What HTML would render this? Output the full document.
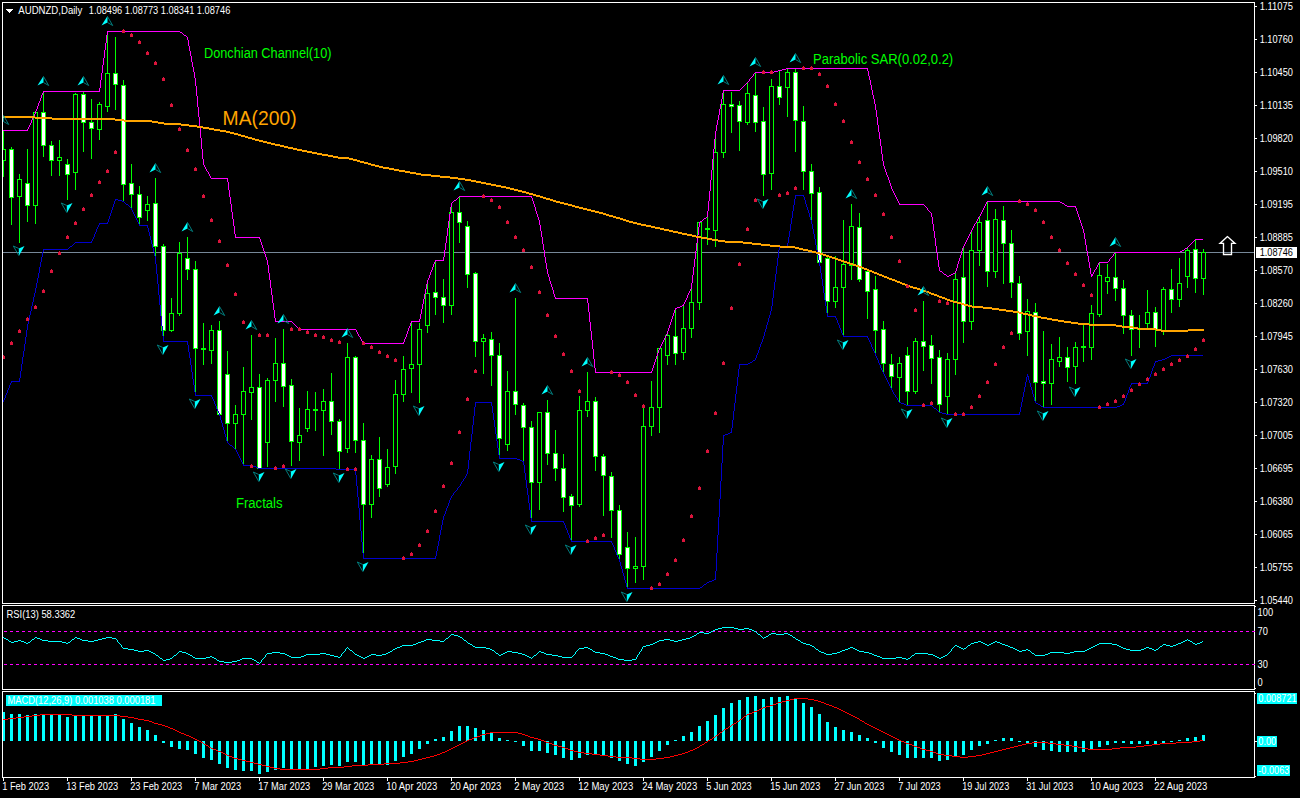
<!DOCTYPE html><html><head><meta charset="utf-8"><title>AUDNZD Daily</title><style>
html,body{margin:0;padding:0;background:#000;}body{width:1300px;height:798px;overflow:hidden;position:relative;font-family:"Liberation Sans",sans-serif;}
svg{position:absolute;left:0;top:0;display:block}
text{font-family:"Liberation Sans",sans-serif;}
.t{font-size:10px;fill:#fff}
</style></head><body>
<svg width="1300" height="798" viewBox="0 0 1300 798">
<rect x="0" y="0" width="1300" height="798" fill="#000"/>
<defs><clipPath id="cm"><rect x="3" y="3" width="1251" height="600"/></clipPath><clipPath id="cr"><rect x="3" y="606" width="1251" height="83"/></clipPath><clipPath id="cd"><rect x="3" y="692" width="1251" height="85"/></clipPath></defs>
<g shape-rendering="crispEdges" clip-path="url(#cm)">
<rect x="3" y="252" width="1251" height="1" fill="#778899"/>
<rect x="3" y="130" width="1" height="47" fill="#00ff00"/>
<rect x="1" y="149" width="5" height="12" fill="#00ff00"/>
<rect x="2" y="150" width="3" height="10" fill="#000"/>
<rect x="11" y="147" width="1" height="78" fill="#00ff00"/>
<rect x="9" y="149" width="5" height="49" fill="#00ff00"/>
<rect x="10" y="150" width="3" height="47" fill="#fff"/>
<rect x="19" y="174" width="1" height="69" fill="#00ff00"/>
<rect x="17" y="179" width="5" height="18" fill="#00ff00"/>
<rect x="18" y="180" width="3" height="16" fill="#000"/>
<rect x="27" y="149" width="1" height="73" fill="#00ff00"/>
<rect x="25" y="183" width="5" height="23" fill="#00ff00"/>
<rect x="26" y="184" width="3" height="21" fill="#fff"/>
<rect x="35" y="112" width="1" height="112" fill="#00ff00"/>
<rect x="33" y="112" width="5" height="94" fill="#00ff00"/>
<rect x="34" y="113" width="3" height="92" fill="#000"/>
<rect x="43" y="91" width="1" height="66" fill="#00ff00"/>
<rect x="41" y="112" width="5" height="34" fill="#00ff00"/>
<rect x="42" y="113" width="3" height="32" fill="#fff"/>
<rect x="51" y="141" width="1" height="35" fill="#00ff00"/>
<rect x="49" y="145" width="5" height="16" fill="#00ff00"/>
<rect x="50" y="146" width="3" height="14" fill="#fff"/>
<rect x="59" y="140" width="1" height="36" fill="#00ff00"/>
<rect x="57" y="157" width="5" height="4" fill="#00ff00"/>
<rect x="58" y="158" width="3" height="2" fill="#000"/>
<rect x="67" y="159" width="1" height="41" fill="#00ff00"/>
<rect x="65" y="164" width="5" height="11" fill="#00ff00"/>
<rect x="66" y="165" width="3" height="9" fill="#fff"/>
<rect x="75" y="93" width="1" height="97" fill="#00ff00"/>
<rect x="73" y="94" width="5" height="79" fill="#00ff00"/>
<rect x="74" y="95" width="3" height="77" fill="#000"/>
<rect x="83" y="91" width="1" height="61" fill="#00ff00"/>
<rect x="81" y="94" width="5" height="29" fill="#00ff00"/>
<rect x="82" y="95" width="3" height="27" fill="#fff"/>
<rect x="91" y="99" width="1" height="60" fill="#00ff00"/>
<rect x="89" y="122" width="5" height="7" fill="#00ff00"/>
<rect x="90" y="123" width="3" height="5" fill="#fff"/>
<rect x="99" y="102" width="1" height="38" fill="#00ff00"/>
<rect x="97" y="104" width="5" height="26" fill="#00ff00"/>
<rect x="98" y="105" width="3" height="24" fill="#000"/>
<rect x="107" y="31" width="1" height="81" fill="#00ff00"/>
<rect x="105" y="73" width="5" height="34" fill="#00ff00"/>
<rect x="106" y="74" width="3" height="32" fill="#000"/>
<rect x="115" y="37" width="1" height="73" fill="#00ff00"/>
<rect x="113" y="73" width="5" height="12" fill="#00ff00"/>
<rect x="114" y="74" width="3" height="10" fill="#fff"/>
<rect x="123" y="80" width="1" height="122" fill="#00ff00"/>
<rect x="121" y="85" width="5" height="100" fill="#00ff00"/>
<rect x="122" y="86" width="3" height="98" fill="#fff"/>
<rect x="131" y="164" width="1" height="45" fill="#00ff00"/>
<rect x="129" y="183" width="5" height="12" fill="#00ff00"/>
<rect x="130" y="184" width="3" height="10" fill="#fff"/>
<rect x="139" y="186" width="1" height="40" fill="#00ff00"/>
<rect x="137" y="194" width="5" height="24" fill="#00ff00"/>
<rect x="138" y="195" width="3" height="22" fill="#fff"/>
<rect x="147" y="196" width="1" height="25" fill="#00ff00"/>
<rect x="145" y="204" width="5" height="7" fill="#00ff00"/>
<rect x="146" y="205" width="3" height="5" fill="#000"/>
<rect x="155" y="178" width="1" height="81" fill="#00ff00"/>
<rect x="153" y="203" width="5" height="44" fill="#00ff00"/>
<rect x="154" y="204" width="3" height="42" fill="#fff"/>
<rect x="163" y="244" width="1" height="98" fill="#00ff00"/>
<rect x="161" y="246" width="5" height="85" fill="#00ff00"/>
<rect x="162" y="247" width="3" height="83" fill="#fff"/>
<rect x="171" y="298" width="1" height="34" fill="#00ff00"/>
<rect x="169" y="313" width="5" height="18" fill="#00ff00"/>
<rect x="170" y="314" width="3" height="16" fill="#000"/>
<rect x="179" y="242" width="1" height="74" fill="#00ff00"/>
<rect x="177" y="253" width="5" height="61" fill="#00ff00"/>
<rect x="178" y="254" width="3" height="59" fill="#000"/>
<rect x="187" y="237" width="1" height="43" fill="#00ff00"/>
<rect x="185" y="258" width="5" height="12" fill="#00ff00"/>
<rect x="186" y="259" width="3" height="10" fill="#fff"/>
<rect x="195" y="261" width="1" height="135" fill="#00ff00"/>
<rect x="193" y="269" width="5" height="80" fill="#00ff00"/>
<rect x="194" y="270" width="3" height="78" fill="#fff"/>
<rect x="203" y="323" width="1" height="42" fill="#00ff00"/>
<rect x="201" y="348" width="5" height="2" fill="#00ff00"/>
<rect x="211" y="325" width="1" height="39" fill="#00ff00"/>
<rect x="209" y="330" width="5" height="21" fill="#00ff00"/>
<rect x="210" y="331" width="3" height="19" fill="#000"/>
<rect x="219" y="321" width="1" height="94" fill="#00ff00"/>
<rect x="217" y="330" width="5" height="85" fill="#00ff00"/>
<rect x="218" y="331" width="3" height="83" fill="#fff"/>
<rect x="227" y="351" width="1" height="92" fill="#00ff00"/>
<rect x="225" y="374" width="5" height="50" fill="#00ff00"/>
<rect x="226" y="375" width="3" height="48" fill="#fff"/>
<rect x="235" y="405" width="1" height="45" fill="#00ff00"/>
<rect x="233" y="414" width="5" height="10" fill="#00ff00"/>
<rect x="234" y="415" width="3" height="8" fill="#000"/>
<rect x="243" y="367" width="1" height="99" fill="#00ff00"/>
<rect x="241" y="391" width="5" height="24" fill="#00ff00"/>
<rect x="242" y="392" width="3" height="22" fill="#000"/>
<rect x="251" y="335" width="1" height="85" fill="#00ff00"/>
<rect x="249" y="387" width="5" height="6" fill="#00ff00"/>
<rect x="250" y="388" width="3" height="4" fill="#000"/>
<rect x="259" y="374" width="1" height="95" fill="#00ff00"/>
<rect x="257" y="387" width="5" height="82" fill="#00ff00"/>
<rect x="258" y="388" width="3" height="80" fill="#fff"/>
<rect x="267" y="378" width="1" height="89" fill="#00ff00"/>
<rect x="265" y="380" width="5" height="63" fill="#00ff00"/>
<rect x="266" y="381" width="3" height="61" fill="#000"/>
<rect x="275" y="338" width="1" height="64" fill="#00ff00"/>
<rect x="273" y="363" width="5" height="18" fill="#00ff00"/>
<rect x="274" y="364" width="3" height="16" fill="#000"/>
<rect x="283" y="329" width="1" height="78" fill="#00ff00"/>
<rect x="281" y="363" width="5" height="24" fill="#00ff00"/>
<rect x="282" y="364" width="3" height="22" fill="#fff"/>
<rect x="291" y="379" width="1" height="87" fill="#00ff00"/>
<rect x="289" y="385" width="5" height="57" fill="#00ff00"/>
<rect x="290" y="386" width="3" height="55" fill="#fff"/>
<rect x="299" y="408" width="1" height="53" fill="#00ff00"/>
<rect x="297" y="435" width="5" height="8" fill="#00ff00"/>
<rect x="298" y="436" width="3" height="6" fill="#000"/>
<rect x="307" y="391" width="1" height="41" fill="#00ff00"/>
<rect x="305" y="409" width="5" height="20" fill="#00ff00"/>
<rect x="306" y="410" width="3" height="18" fill="#000"/>
<rect x="315" y="392" width="1" height="39" fill="#00ff00"/>
<rect x="313" y="409" width="5" height="2" fill="#00ff00"/>
<rect x="323" y="389" width="1" height="67" fill="#00ff00"/>
<rect x="321" y="401" width="5" height="10" fill="#00ff00"/>
<rect x="322" y="402" width="3" height="8" fill="#000"/>
<rect x="331" y="373" width="1" height="62" fill="#00ff00"/>
<rect x="329" y="401" width="5" height="21" fill="#00ff00"/>
<rect x="330" y="402" width="3" height="19" fill="#fff"/>
<rect x="339" y="419" width="1" height="51" fill="#00ff00"/>
<rect x="337" y="421" width="5" height="31" fill="#00ff00"/>
<rect x="338" y="422" width="3" height="29" fill="#fff"/>
<rect x="347" y="343" width="1" height="110" fill="#00ff00"/>
<rect x="345" y="357" width="5" height="92" fill="#00ff00"/>
<rect x="346" y="358" width="3" height="90" fill="#000"/>
<rect x="355" y="356" width="1" height="97" fill="#00ff00"/>
<rect x="353" y="357" width="5" height="84" fill="#00ff00"/>
<rect x="354" y="358" width="3" height="82" fill="#fff"/>
<rect x="363" y="423" width="1" height="136" fill="#00ff00"/>
<rect x="361" y="440" width="5" height="65" fill="#00ff00"/>
<rect x="362" y="441" width="3" height="63" fill="#fff"/>
<rect x="371" y="455" width="1" height="63" fill="#00ff00"/>
<rect x="369" y="459" width="5" height="46" fill="#00ff00"/>
<rect x="370" y="460" width="3" height="44" fill="#000"/>
<rect x="379" y="437" width="1" height="60" fill="#00ff00"/>
<rect x="377" y="459" width="5" height="30" fill="#00ff00"/>
<rect x="378" y="460" width="3" height="28" fill="#fff"/>
<rect x="387" y="449" width="1" height="38" fill="#00ff00"/>
<rect x="385" y="467" width="5" height="18" fill="#00ff00"/>
<rect x="386" y="468" width="3" height="16" fill="#000"/>
<rect x="395" y="380" width="1" height="94" fill="#00ff00"/>
<rect x="393" y="394" width="5" height="73" fill="#00ff00"/>
<rect x="394" y="395" width="3" height="71" fill="#000"/>
<rect x="403" y="356" width="1" height="46" fill="#00ff00"/>
<rect x="401" y="369" width="5" height="26" fill="#00ff00"/>
<rect x="402" y="370" width="3" height="24" fill="#000"/>
<rect x="411" y="321" width="1" height="72" fill="#00ff00"/>
<rect x="409" y="364" width="5" height="5" fill="#00ff00"/>
<rect x="410" y="365" width="3" height="3" fill="#000"/>
<rect x="419" y="323" width="1" height="80" fill="#00ff00"/>
<rect x="417" y="329" width="5" height="36" fill="#00ff00"/>
<rect x="418" y="330" width="3" height="34" fill="#000"/>
<rect x="427" y="281" width="1" height="52" fill="#00ff00"/>
<rect x="425" y="293" width="5" height="33" fill="#00ff00"/>
<rect x="426" y="294" width="3" height="31" fill="#000"/>
<rect x="435" y="260" width="1" height="55" fill="#00ff00"/>
<rect x="433" y="292" width="5" height="6" fill="#00ff00"/>
<rect x="434" y="293" width="3" height="4" fill="#fff"/>
<rect x="443" y="279" width="1" height="44" fill="#00ff00"/>
<rect x="441" y="297" width="5" height="9" fill="#00ff00"/>
<rect x="442" y="298" width="3" height="7" fill="#fff"/>
<rect x="451" y="203" width="1" height="112" fill="#00ff00"/>
<rect x="449" y="212" width="5" height="94" fill="#00ff00"/>
<rect x="450" y="213" width="3" height="92" fill="#000"/>
<rect x="459" y="196" width="1" height="47" fill="#00ff00"/>
<rect x="457" y="212" width="5" height="11" fill="#00ff00"/>
<rect x="458" y="213" width="3" height="9" fill="#fff"/>
<rect x="467" y="221" width="1" height="67" fill="#00ff00"/>
<rect x="465" y="226" width="5" height="49" fill="#00ff00"/>
<rect x="466" y="227" width="3" height="47" fill="#fff"/>
<rect x="475" y="272" width="1" height="85" fill="#00ff00"/>
<rect x="473" y="273" width="5" height="69" fill="#00ff00"/>
<rect x="474" y="274" width="3" height="67" fill="#fff"/>
<rect x="483" y="334" width="1" height="40" fill="#00ff00"/>
<rect x="481" y="338" width="5" height="4" fill="#00ff00"/>
<rect x="482" y="339" width="3" height="2" fill="#000"/>
<rect x="491" y="332" width="1" height="54" fill="#00ff00"/>
<rect x="489" y="339" width="5" height="17" fill="#00ff00"/>
<rect x="490" y="340" width="3" height="15" fill="#fff"/>
<rect x="499" y="343" width="1" height="116" fill="#00ff00"/>
<rect x="497" y="355" width="5" height="84" fill="#00ff00"/>
<rect x="498" y="356" width="3" height="82" fill="#fff"/>
<rect x="507" y="371" width="1" height="80" fill="#00ff00"/>
<rect x="505" y="391" width="5" height="54" fill="#00ff00"/>
<rect x="506" y="392" width="3" height="52" fill="#000"/>
<rect x="515" y="298" width="1" height="117" fill="#00ff00"/>
<rect x="513" y="391" width="5" height="14" fill="#00ff00"/>
<rect x="514" y="392" width="3" height="12" fill="#fff"/>
<rect x="523" y="403" width="1" height="59" fill="#00ff00"/>
<rect x="521" y="405" width="5" height="23" fill="#00ff00"/>
<rect x="522" y="406" width="3" height="21" fill="#fff"/>
<rect x="531" y="421" width="1" height="101" fill="#00ff00"/>
<rect x="529" y="427" width="5" height="56" fill="#00ff00"/>
<rect x="530" y="428" width="3" height="54" fill="#fff"/>
<rect x="539" y="412" width="1" height="98" fill="#00ff00"/>
<rect x="537" y="412" width="5" height="71" fill="#00ff00"/>
<rect x="538" y="413" width="3" height="69" fill="#000"/>
<rect x="547" y="400" width="1" height="65" fill="#00ff00"/>
<rect x="545" y="412" width="5" height="42" fill="#00ff00"/>
<rect x="546" y="413" width="3" height="40" fill="#fff"/>
<rect x="555" y="430" width="1" height="51" fill="#00ff00"/>
<rect x="553" y="453" width="5" height="16" fill="#00ff00"/>
<rect x="554" y="454" width="3" height="14" fill="#fff"/>
<rect x="563" y="454" width="1" height="58" fill="#00ff00"/>
<rect x="561" y="468" width="5" height="30" fill="#00ff00"/>
<rect x="562" y="469" width="3" height="28" fill="#fff"/>
<rect x="571" y="494" width="1" height="48" fill="#00ff00"/>
<rect x="569" y="496" width="5" height="10" fill="#00ff00"/>
<rect x="570" y="497" width="3" height="8" fill="#fff"/>
<rect x="579" y="396" width="1" height="111" fill="#00ff00"/>
<rect x="577" y="410" width="5" height="95" fill="#00ff00"/>
<rect x="578" y="411" width="3" height="93" fill="#000"/>
<rect x="587" y="372" width="1" height="45" fill="#00ff00"/>
<rect x="585" y="401" width="5" height="10" fill="#00ff00"/>
<rect x="586" y="402" width="3" height="8" fill="#000"/>
<rect x="595" y="397" width="1" height="74" fill="#00ff00"/>
<rect x="593" y="401" width="5" height="56" fill="#00ff00"/>
<rect x="594" y="402" width="3" height="54" fill="#fff"/>
<rect x="603" y="454" width="1" height="62" fill="#00ff00"/>
<rect x="601" y="456" width="5" height="20" fill="#00ff00"/>
<rect x="602" y="457" width="3" height="18" fill="#fff"/>
<rect x="611" y="472" width="1" height="66" fill="#00ff00"/>
<rect x="609" y="476" width="5" height="35" fill="#00ff00"/>
<rect x="610" y="477" width="3" height="33" fill="#fff"/>
<rect x="619" y="505" width="1" height="56" fill="#00ff00"/>
<rect x="617" y="510" width="5" height="45" fill="#00ff00"/>
<rect x="618" y="511" width="3" height="43" fill="#fff"/>
<rect x="627" y="532" width="1" height="57" fill="#00ff00"/>
<rect x="625" y="547" width="5" height="22" fill="#00ff00"/>
<rect x="626" y="548" width="3" height="20" fill="#fff"/>
<rect x="635" y="537" width="1" height="46" fill="#00ff00"/>
<rect x="633" y="566" width="5" height="3" fill="#00ff00"/>
<rect x="634" y="567" width="3" height="1" fill="#000"/>
<rect x="643" y="408" width="1" height="172" fill="#00ff00"/>
<rect x="641" y="426" width="5" height="141" fill="#00ff00"/>
<rect x="642" y="427" width="3" height="139" fill="#000"/>
<rect x="651" y="381" width="1" height="55" fill="#00ff00"/>
<rect x="649" y="407" width="5" height="20" fill="#00ff00"/>
<rect x="650" y="408" width="3" height="18" fill="#000"/>
<rect x="659" y="348" width="1" height="85" fill="#00ff00"/>
<rect x="657" y="348" width="5" height="60" fill="#00ff00"/>
<rect x="658" y="349" width="3" height="58" fill="#000"/>
<rect x="667" y="332" width="1" height="33" fill="#00ff00"/>
<rect x="665" y="335" width="5" height="21" fill="#00ff00"/>
<rect x="666" y="336" width="3" height="19" fill="#000"/>
<rect x="675" y="308" width="1" height="57" fill="#00ff00"/>
<rect x="673" y="336" width="5" height="18" fill="#00ff00"/>
<rect x="674" y="337" width="3" height="16" fill="#fff"/>
<rect x="683" y="305" width="1" height="55" fill="#00ff00"/>
<rect x="681" y="328" width="5" height="25" fill="#00ff00"/>
<rect x="682" y="329" width="3" height="23" fill="#000"/>
<rect x="691" y="287" width="1" height="51" fill="#00ff00"/>
<rect x="689" y="302" width="5" height="27" fill="#00ff00"/>
<rect x="690" y="303" width="3" height="25" fill="#000"/>
<rect x="699" y="222" width="1" height="88" fill="#00ff00"/>
<rect x="697" y="222" width="5" height="81" fill="#00ff00"/>
<rect x="698" y="223" width="3" height="79" fill="#000"/>
<rect x="707" y="216" width="1" height="29" fill="#00ff00"/>
<rect x="705" y="228" width="5" height="2" fill="#00ff00"/>
<rect x="715" y="133" width="1" height="114" fill="#00ff00"/>
<rect x="713" y="152" width="5" height="79" fill="#00ff00"/>
<rect x="714" y="153" width="3" height="77" fill="#000"/>
<rect x="723" y="90" width="1" height="68" fill="#00ff00"/>
<rect x="721" y="104" width="5" height="49" fill="#00ff00"/>
<rect x="722" y="105" width="3" height="47" fill="#000"/>
<rect x="731" y="92" width="1" height="41" fill="#00ff00"/>
<rect x="729" y="104" width="5" height="3" fill="#00ff00"/>
<rect x="730" y="105" width="3" height="1" fill="#fff"/>
<rect x="739" y="101" width="1" height="50" fill="#00ff00"/>
<rect x="737" y="105" width="5" height="17" fill="#00ff00"/>
<rect x="738" y="106" width="3" height="15" fill="#fff"/>
<rect x="747" y="82" width="1" height="43" fill="#00ff00"/>
<rect x="745" y="93" width="5" height="30" fill="#00ff00"/>
<rect x="746" y="94" width="3" height="28" fill="#000"/>
<rect x="755" y="72" width="1" height="60" fill="#00ff00"/>
<rect x="753" y="95" width="5" height="28" fill="#00ff00"/>
<rect x="754" y="96" width="3" height="26" fill="#fff"/>
<rect x="763" y="107" width="1" height="89" fill="#00ff00"/>
<rect x="761" y="121" width="5" height="54" fill="#00ff00"/>
<rect x="762" y="122" width="3" height="52" fill="#fff"/>
<rect x="771" y="79" width="1" height="111" fill="#00ff00"/>
<rect x="769" y="86" width="5" height="88" fill="#00ff00"/>
<rect x="770" y="87" width="3" height="86" fill="#000"/>
<rect x="779" y="70" width="1" height="35" fill="#00ff00"/>
<rect x="777" y="86" width="5" height="12" fill="#00ff00"/>
<rect x="778" y="87" width="3" height="10" fill="#fff"/>
<rect x="787" y="68" width="1" height="49" fill="#00ff00"/>
<rect x="785" y="72" width="5" height="16" fill="#00ff00"/>
<rect x="786" y="73" width="3" height="14" fill="#000"/>
<rect x="795" y="68" width="1" height="84" fill="#00ff00"/>
<rect x="793" y="72" width="5" height="49" fill="#00ff00"/>
<rect x="794" y="73" width="3" height="47" fill="#fff"/>
<rect x="803" y="106" width="1" height="84" fill="#00ff00"/>
<rect x="801" y="121" width="5" height="51" fill="#00ff00"/>
<rect x="802" y="122" width="3" height="49" fill="#fff"/>
<rect x="811" y="164" width="1" height="58" fill="#00ff00"/>
<rect x="809" y="171" width="5" height="23" fill="#00ff00"/>
<rect x="810" y="172" width="3" height="21" fill="#fff"/>
<rect x="819" y="187" width="1" height="76" fill="#00ff00"/>
<rect x="817" y="192" width="5" height="71" fill="#00ff00"/>
<rect x="818" y="193" width="3" height="69" fill="#fff"/>
<rect x="827" y="257" width="1" height="60" fill="#00ff00"/>
<rect x="825" y="258" width="5" height="44" fill="#00ff00"/>
<rect x="826" y="259" width="3" height="42" fill="#fff"/>
<rect x="835" y="256" width="1" height="52" fill="#00ff00"/>
<rect x="833" y="287" width="5" height="15" fill="#00ff00"/>
<rect x="834" y="288" width="3" height="13" fill="#000"/>
<rect x="843" y="220" width="1" height="117" fill="#00ff00"/>
<rect x="841" y="264" width="5" height="24" fill="#00ff00"/>
<rect x="842" y="265" width="3" height="22" fill="#000"/>
<rect x="851" y="204" width="1" height="76" fill="#00ff00"/>
<rect x="849" y="226" width="5" height="40" fill="#00ff00"/>
<rect x="850" y="227" width="3" height="38" fill="#000"/>
<rect x="859" y="213" width="1" height="69" fill="#00ff00"/>
<rect x="857" y="227" width="5" height="53" fill="#00ff00"/>
<rect x="858" y="228" width="3" height="51" fill="#fff"/>
<rect x="867" y="270" width="1" height="49" fill="#00ff00"/>
<rect x="865" y="271" width="5" height="21" fill="#00ff00"/>
<rect x="866" y="272" width="3" height="19" fill="#fff"/>
<rect x="875" y="276" width="1" height="79" fill="#00ff00"/>
<rect x="873" y="289" width="5" height="42" fill="#00ff00"/>
<rect x="874" y="290" width="3" height="40" fill="#fff"/>
<rect x="883" y="321" width="1" height="53" fill="#00ff00"/>
<rect x="881" y="329" width="5" height="35" fill="#00ff00"/>
<rect x="882" y="330" width="3" height="33" fill="#fff"/>
<rect x="891" y="354" width="1" height="36" fill="#00ff00"/>
<rect x="889" y="364" width="5" height="13" fill="#00ff00"/>
<rect x="890" y="365" width="3" height="11" fill="#fff"/>
<rect x="899" y="357" width="1" height="46" fill="#00ff00"/>
<rect x="897" y="363" width="5" height="15" fill="#00ff00"/>
<rect x="898" y="364" width="3" height="13" fill="#000"/>
<rect x="907" y="347" width="1" height="59" fill="#00ff00"/>
<rect x="905" y="355" width="5" height="37" fill="#00ff00"/>
<rect x="906" y="356" width="3" height="35" fill="#fff"/>
<rect x="915" y="338" width="1" height="56" fill="#00ff00"/>
<rect x="913" y="341" width="5" height="51" fill="#00ff00"/>
<rect x="914" y="342" width="3" height="49" fill="#000"/>
<rect x="923" y="301" width="1" height="70" fill="#00ff00"/>
<rect x="921" y="341" width="5" height="6" fill="#00ff00"/>
<rect x="922" y="342" width="3" height="4" fill="#fff"/>
<rect x="931" y="335" width="1" height="49" fill="#00ff00"/>
<rect x="929" y="345" width="5" height="14" fill="#00ff00"/>
<rect x="930" y="346" width="3" height="12" fill="#fff"/>
<rect x="939" y="350" width="1" height="63" fill="#00ff00"/>
<rect x="937" y="357" width="5" height="48" fill="#00ff00"/>
<rect x="938" y="358" width="3" height="46" fill="#fff"/>
<rect x="947" y="353" width="1" height="62" fill="#00ff00"/>
<rect x="945" y="359" width="5" height="38" fill="#00ff00"/>
<rect x="946" y="360" width="3" height="36" fill="#000"/>
<rect x="955" y="272" width="1" height="103" fill="#00ff00"/>
<rect x="953" y="279" width="5" height="81" fill="#00ff00"/>
<rect x="954" y="280" width="3" height="79" fill="#000"/>
<rect x="963" y="246" width="1" height="97" fill="#00ff00"/>
<rect x="961" y="277" width="5" height="45" fill="#00ff00"/>
<rect x="962" y="278" width="3" height="43" fill="#fff"/>
<rect x="971" y="230" width="1" height="100" fill="#00ff00"/>
<rect x="969" y="250" width="5" height="72" fill="#00ff00"/>
<rect x="970" y="251" width="3" height="70" fill="#000"/>
<rect x="979" y="216" width="1" height="50" fill="#00ff00"/>
<rect x="977" y="222" width="5" height="29" fill="#00ff00"/>
<rect x="978" y="223" width="3" height="27" fill="#000"/>
<rect x="987" y="201" width="1" height="86" fill="#00ff00"/>
<rect x="985" y="220" width="5" height="52" fill="#00ff00"/>
<rect x="986" y="221" width="3" height="50" fill="#fff"/>
<rect x="995" y="209" width="1" height="69" fill="#00ff00"/>
<rect x="993" y="219" width="5" height="53" fill="#00ff00"/>
<rect x="994" y="220" width="3" height="51" fill="#000"/>
<rect x="1003" y="206" width="1" height="78" fill="#00ff00"/>
<rect x="1001" y="220" width="5" height="24" fill="#00ff00"/>
<rect x="1002" y="221" width="3" height="22" fill="#fff"/>
<rect x="1011" y="230" width="1" height="68" fill="#00ff00"/>
<rect x="1009" y="243" width="5" height="40" fill="#00ff00"/>
<rect x="1010" y="244" width="3" height="38" fill="#fff"/>
<rect x="1019" y="276" width="1" height="64" fill="#00ff00"/>
<rect x="1017" y="283" width="5" height="51" fill="#00ff00"/>
<rect x="1018" y="284" width="3" height="49" fill="#fff"/>
<rect x="1027" y="299" width="1" height="57" fill="#00ff00"/>
<rect x="1025" y="311" width="5" height="21" fill="#00ff00"/>
<rect x="1026" y="312" width="3" height="19" fill="#000"/>
<rect x="1035" y="303" width="1" height="100" fill="#00ff00"/>
<rect x="1033" y="312" width="5" height="71" fill="#00ff00"/>
<rect x="1034" y="313" width="3" height="69" fill="#fff"/>
<rect x="1043" y="331" width="1" height="77" fill="#00ff00"/>
<rect x="1041" y="381" width="5" height="3" fill="#00ff00"/>
<rect x="1042" y="382" width="3" height="1" fill="#fff"/>
<rect x="1051" y="344" width="1" height="61" fill="#00ff00"/>
<rect x="1049" y="359" width="5" height="25" fill="#00ff00"/>
<rect x="1050" y="360" width="3" height="23" fill="#000"/>
<rect x="1059" y="337" width="1" height="30" fill="#00ff00"/>
<rect x="1057" y="357" width="5" height="5" fill="#00ff00"/>
<rect x="1058" y="358" width="3" height="3" fill="#000"/>
<rect x="1067" y="347" width="1" height="35" fill="#00ff00"/>
<rect x="1065" y="357" width="5" height="11" fill="#00ff00"/>
<rect x="1066" y="358" width="3" height="9" fill="#fff"/>
<rect x="1075" y="342" width="1" height="42" fill="#00ff00"/>
<rect x="1073" y="347" width="5" height="20" fill="#00ff00"/>
<rect x="1074" y="348" width="3" height="18" fill="#000"/>
<rect x="1083" y="325" width="1" height="37" fill="#00ff00"/>
<rect x="1081" y="346" width="5" height="2" fill="#00ff00"/>
<rect x="1091" y="305" width="1" height="55" fill="#00ff00"/>
<rect x="1089" y="313" width="5" height="35" fill="#00ff00"/>
<rect x="1090" y="314" width="3" height="33" fill="#000"/>
<rect x="1099" y="262" width="1" height="55" fill="#00ff00"/>
<rect x="1097" y="275" width="5" height="40" fill="#00ff00"/>
<rect x="1098" y="276" width="3" height="38" fill="#000"/>
<rect x="1107" y="264" width="1" height="30" fill="#00ff00"/>
<rect x="1105" y="277" width="5" height="5" fill="#00ff00"/>
<rect x="1106" y="278" width="3" height="3" fill="#000"/>
<rect x="1115" y="252" width="1" height="49" fill="#00ff00"/>
<rect x="1113" y="277" width="5" height="12" fill="#00ff00"/>
<rect x="1114" y="278" width="3" height="10" fill="#fff"/>
<rect x="1123" y="280" width="1" height="54" fill="#00ff00"/>
<rect x="1121" y="288" width="5" height="28" fill="#00ff00"/>
<rect x="1122" y="289" width="3" height="26" fill="#fff"/>
<rect x="1131" y="310" width="1" height="46" fill="#00ff00"/>
<rect x="1129" y="315" width="5" height="15" fill="#00ff00"/>
<rect x="1130" y="316" width="3" height="13" fill="#fff"/>
<rect x="1139" y="315" width="1" height="33" fill="#00ff00"/>
<rect x="1137" y="329" width="5" height="1" fill="#00ff00"/>
<rect x="1147" y="290" width="1" height="39" fill="#00ff00"/>
<rect x="1145" y="312" width="5" height="12" fill="#00ff00"/>
<rect x="1146" y="313" width="3" height="10" fill="#000"/>
<rect x="1155" y="307" width="1" height="40" fill="#00ff00"/>
<rect x="1153" y="312" width="5" height="18" fill="#00ff00"/>
<rect x="1154" y="313" width="3" height="16" fill="#fff"/>
<rect x="1163" y="287" width="1" height="48" fill="#00ff00"/>
<rect x="1161" y="289" width="5" height="42" fill="#00ff00"/>
<rect x="1162" y="290" width="3" height="40" fill="#000"/>
<rect x="1171" y="269" width="1" height="44" fill="#00ff00"/>
<rect x="1169" y="289" width="5" height="11" fill="#00ff00"/>
<rect x="1170" y="290" width="3" height="9" fill="#fff"/>
<rect x="1179" y="258" width="1" height="49" fill="#00ff00"/>
<rect x="1177" y="283" width="5" height="17" fill="#00ff00"/>
<rect x="1178" y="284" width="3" height="15" fill="#000"/>
<rect x="1187" y="247" width="1" height="41" fill="#00ff00"/>
<rect x="1185" y="250" width="5" height="27" fill="#00ff00"/>
<rect x="1186" y="251" width="3" height="25" fill="#000"/>
<rect x="1195" y="239" width="1" height="54" fill="#00ff00"/>
<rect x="1193" y="249" width="5" height="30" fill="#00ff00"/>
<rect x="1194" y="250" width="3" height="28" fill="#fff"/>
<rect x="1203" y="249" width="1" height="46" fill="#00ff00"/>
<rect x="1201" y="252" width="5" height="27" fill="#00ff00"/>
<rect x="1202" y="253" width="3" height="25" fill="#000"/>
</g>
<g shape-rendering="crispEdges">
<path d="M70 246h2v1h-2zM779 246h9v1h-9zM531 521h33v1h-33zM258 468h78v1h-78zM942 413h4v1h-4zM827 316h9v1h-9zM571 541h41v1h-41zM627 588h73v1h-73zM163 341h25v1h-25zM1131 383h17v1h-17zM363 558h73v1h-73zM906 405h26v1h-26zM1120 405h2v1h-2zM336 469h20v1h-20zM843 336h25v1h-25zM739 364h9v1h-9zM1043 407h74v1h-74zM946 414h74v1h-74zM499 458h18v1h-18zM43 249h25v1h-25zM11 381h9v1h-9zM99 223h9v1h-9zM75 242h17v1h-17zM934 408h2v1h-2zM1171 355h32v1h-32zM1155 361h3v1h-3zM243 465h10v1h-10zM122 201h2v1h-2zM1041 406h2v1h-2zM1117 406h3v1h-3zM1165 358h2v1h-2zM748 363h2v1h-2zM707 582h2v1h-2zM939 412h3v1h-3zM1169 356h2v1h-2zM475 402h17v1h-17zM899 402h2v1h-2zM118 200h4v1h-4zM126 204h2v1h-2zM750 362h2v1h-2zM730 432h2v1h-2zM1162 359h3v1h-3zM139 225h9v1h-9zM753 360h2v1h-2zM1158 360h4v1h-4zM714 579h2v1h-2zM709 581h3v1h-3zM517 459h3v1h-3zM901 403h3v1h-3zM1036 403h2v1h-2zM725 434h3v1h-3zM712 580h2v1h-2zM522 461h2v1h-2zM795 195h9v1h-9zM728 433h2v1h-2zM704 584h2v1h-2zM195 395h17v1h-17zM1027 376h2v1h-2zM253 466h3v1h-3zM230 445h2v1h-2zM115 199h3v1h-3zM723 435h2v1h-2zM1167 357h2v1h-2zM904 404h2v1h-2zM1038 404h2v1h-2zM1122 404h2v1h-2zM256 467h2v1h-2zM520 460h2v1h-2zM700 587h2v1h-2zM152 244h1v4h-1zM465 476h1v2h-1zM717 535h1v18h-1zM766 325h1v4h-1zM220 416h1v4h-1zM733 411h1v9h-1zM162 326h1v10h-1zM470 442h1v9h-1zM826 306h1v7h-1zM361 531h1v11h-1zM737 377h1v9h-1zM223 427h1v3h-1zM835 317h1v1h-1zM875 353h1v3h-1zM827 313h1v3h-1zM1128 390h1v3h-1zM159 295h1v10h-1zM1151 371h1v3h-1zM1026 377h1v5h-1zM792 211h1v7h-1zM38 273h1v5h-1zM445 511h1v3h-1zM841 330h1v3h-1zM732 420h1v8h-1zM718 517h1v18h-1zM716 553h1v18h-1zM1030 383h1v4h-1zM525 473h1v7h-1zM3 400h1v2h-1zM842 333h1v2h-1zM779 247h1v3h-1zM1033 394h1v3h-1zM791 218h1v6h-1zM453 493h1v2h-1zM23 351h1v6h-1zM892 390h1v2h-1zM161 316h1v10h-1zM360 520h1v11h-1zM28 320h1v4h-1zM95 232h1v2h-1zM41 257h1v5h-1zM817 250h1v5h-1zM474 407h1v9h-1zM158 284h1v11h-1zM565 525h1v3h-1zM440 530h1v5h-1zM111 210h1v3h-1zM1022 397h1v5h-1zM871 344h1v3h-1zM528 495h1v8h-1zM190 358h1v7h-1zM569 535h1v3h-1zM155 256h1v8h-1zM473 416h1v9h-1zM363 553h1v5h-1zM1020 407h1v5h-1zM443 516h1v4h-1zM731 428h1v4h-1zM468 460h1v9h-1zM160 305h1v11h-1zM617 555h1v2h-1zM133 212h1v2h-1zM492 406h1v7h-1zM498 448h1v7h-1zM823 286h1v7h-1zM212 397h1v2h-1zM357 486h1v11h-1zM816 245h1v5h-1zM193 379h1v6h-1zM452 495h1v1h-1zM35 288h1v5h-1zM794 199h1v6h-1zM778 250h1v8h-1zM790 224h1v7h-1zM10 383h1v2h-1zM22 357h1v7h-1zM362 542h1v11h-1zM94 234h1v3h-1zM772 298h1v8h-1zM40 262h1v5h-1zM1154 363h1v3h-1zM723 436h1v9h-1zM219 413h1v3h-1zM809 213h1v4h-1zM27 324h1v6h-1zM359 508h1v12h-1zM836 318h1v2h-1zM439 535h1v6h-1zM752 361h1v1h-1zM812 224h1v5h-1zM530 510h1v8h-1zM722 445h1v18h-1zM843 335h1v1h-1zM192 372h1v7h-1zM472 425h1v9h-1zM232 446h1v1h-1zM30 311h1v4h-1zM1029 380h1v3h-1zM442 520h1v5h-1zM356 475h1v11h-1zM805 200h1v4h-1zM620 562h1v4h-1zM467 469h1v5h-1zM1024 387h1v5h-1zM734 403h1v8h-1zM768 318h1v4h-1zM36 283h1v5h-1zM471 434h1v8h-1zM114 201h1v3h-1zM715 571h1v8h-1zM494 420h1v7h-1zM891 388h1v2h-1zM721 463h1v18h-1zM808 210h1v3h-1zM564 523h1v2h-1zM623 573h1v3h-1zM777 258h1v8h-1zM789 231h1v6h-1zM9 385h1v3h-1zM1153 366h1v2h-1zM153 248h1v4h-1zM189 352h1v6h-1zM570 538h1v2h-1zM154 252h1v4h-1zM446 508h1v3h-1zM720 481h1v18h-1zM163 336h1v5h-1zM571 540h1v1h-1zM523 462h1v3h-1zM108 219h1v3h-1zM26 330h1v7h-1zM776 266h1v8h-1zM39 267h1v6h-1zM224 430h1v4h-1zM438 541h1v5h-1zM936 409h1v1h-1zM497 441h1v7h-1zM763 336h1v3h-1zM877 358h1v2h-1zM821 273h1v6h-1zM227 441h1v2h-1zM822 279h1v7h-1zM228 443h1v1h-1zM213 399h1v2h-1zM735 394h1v9h-1zM815 239h1v6h-1zM739 365h1v4h-1zM242 462h1v2h-1zM526 480h1v8h-1zM157 274h1v10h-1zM1034 397h1v4h-1zM150 236h1v4h-1zM188 345h1v7h-1zM113 204h1v3h-1zM441 525h1v5h-1zM69 247h1v1h-1zM719 499h1v18h-1zM358 497h1v11h-1zM21 364h1v7h-1zM793 205h1v6h-1zM811 220h1v4h-1zM191 365h1v7h-1zM355 470h1v5h-1zM469 451h1v9h-1zM612 543h1v2h-1zM156 264h1v10h-1zM771 306h1v5h-1zM762 339h1v3h-1zM775 274h1v8h-1zM437 546h1v5h-1zM19 378h1v3h-1zM804 197h1v3h-1zM619 559h1v3h-1zM42 252h1v5h-1zM475 403h1v4h-1zM194 385h1v7h-1zM868 338h1v2h-1zM34 293h1v4h-1zM937 410h1v1h-1zM878 360h1v3h-1zM838 323h1v2h-1zM938 411h1v1h-1zM226 437h1v4h-1zM20 371h1v7h-1zM457 488h1v2h-1zM885 376h1v2h-1zM882 370h1v2h-1zM1147 382h1v1h-1zM819 260h1v6h-1zM495 427h1v7h-1zM496 434h1v7h-1zM765 329h1v3h-1zM613 545h1v2h-1zM91 241h1v1h-1zM933 407h1v1h-1zM736 386h1v8h-1zM614 547h1v3h-1zM1127 393h1v2h-1zM236 450h1v2h-1zM1025 382h1v5h-1zM237 452h1v2h-1zM137 220h1v2h-1zM215 404h1v2h-1zM151 240h1v4h-1zM756 355h1v3h-1zM764 332h1v4h-1zM6 393h1v2h-1zM32 302h1v4h-1zM883 372h1v2h-1zM884 374h1v2h-1zM825 300h1v6h-1zM463 479h1v2h-1zM755 358h1v2h-1zM873 349h1v2h-1zM524 465h1v8h-1zM5 395h1v3h-1zM135 216h1v2h-1zM136 218h1v2h-1zM74 243h1v1h-1zM1023 392h1v5h-1zM214 401h1v3h-1zM466 474h1v2h-1zM788 237h1v6h-1zM462 481h1v1h-1zM1027 374h1v2h-1zM4 398h1v2h-1zM615 550h1v2h-1zM893 392h1v2h-1zM738 369h1v8h-1zM824 293h1v7h-1zM566 528h1v2h-1zM787 243h1v3h-1zM493 413h1v7h-1zM774 282h1v8h-1zM436 551h1v5h-1zM187 342h1v3h-1zM795 196h1v3h-1zM448 503h1v3h-1zM810 217h1v3h-1zM837 320h1v3h-1zM820 266h1v7h-1zM703 585h1v1h-1zM130 207h1v1h-1zM1123 403h1v1h-1zM773 290h1v8h-1zM895 395h1v2h-1zM447 506h1v2h-1zM870 342h1v2h-1zM1131 384h1v1h-1zM225 434h1v3h-1zM840 328h1v2h-1zM125 203h1v1h-1zM1150 374h1v3h-1zM147 226h1v2h-1zM98 225h1v2h-1zM1035 401h1v2h-1zM527 488h1v7h-1zM1130 385h1v2h-1zM458 487h1v1h-1zM932 406h1v1h-1zM1149 377h1v2h-1zM73 244h1v1h-1zM759 347h1v3h-1zM897 398h1v2h-1zM217 409h1v2h-1zM97 227h1v2h-1zM461 482h1v2h-1zM1129 387h1v3h-1zM702 586h1v1h-1zM770 311h1v4h-1zM1148 379h1v3h-1zM886 378h1v2h-1zM622 569h1v4h-1zM625 580h1v3h-1zM8 388h1v2h-1zM529 503h1v7h-1zM107 222h1v1h-1zM233 447h1v1h-1zM37 278h1v5h-1zM24 344h1v7h-1zM216 406h1v3h-1zM1155 362h1v1h-1zM1021 402h1v5h-1zM7 390h1v3h-1zM813 229h1v5h-1zM1032 390h1v4h-1zM806 204h1v3h-1zM624 576h1v4h-1zM568 533h1v2h-1zM235 449h1v1h-1zM139 224h1v1h-1zM451 496h1v2h-1zM767 322h1v3h-1zM221 420h1v3h-1zM839 325h1v3h-1zM25 337h1v7h-1zM128 205h1v1h-1zM1019 412h1v2h-1zM1031 387h1v3h-1zM616 552h1v3h-1zM1126 395h1v3h-1zM450 498h1v2h-1zM818 255h1v5h-1zM195 392h1v3h-1zM567 530h1v3h-1zM872 347h1v2h-1zM814 234h1v5h-1zM879 363h1v2h-1zM124 202h1v1h-1zM138 222h1v2h-1zM29 315h1v5h-1zM11 382h1v1h-1zM807 207h1v3h-1zM33 297h1v5h-1zM1152 368h1v3h-1zM769 315h1v3h-1zM499 455h1v3h-1zM115 200h1v1h-1zM621 566h1v3h-1zM896 397h1v1h-1zM222 423h1v4h-1zM531 518h1v3h-1zM444 514h1v2h-1zM148 228h1v4h-1zM888 382h1v2h-1zM110 213h1v3h-1zM132 210h1v2h-1zM31 306h1v5h-1zM455 491h1v1h-1zM239 456h1v2h-1zM894 394h1v1h-1zM898 400h1v2h-1zM109 216h1v3h-1zM491 403h1v3h-1zM890 386h1v2h-1zM887 380h1v2h-1zM758 350h1v3h-1zM92 239h1v2h-1zM238 454h1v2h-1zM241 460h1v2h-1zM1040 405h1v1h-1zM149 232h1v4h-1zM112 207h1v3h-1zM757 353h1v2h-1zM618 557h1v2h-1zM435 556h1v2h-1zM72 245h1v1h-1zM460 484h1v2h-1zM874 351h1v2h-1zM881 368h1v2h-1zM760 344h1v3h-1zM456 490h1v1h-1zM627 587h1v1h-1zM459 486h1v1h-1zM1028 377h1v3h-1zM454 492h1v1h-1zM93 237h1v2h-1zM880 365h1v3h-1zM1125 398h1v3h-1zM43 250h1v2h-1zM449 500h1v3h-1zM626 583h1v4h-1zM134 214h1v2h-1zM131 208h1v2h-1zM1124 401h1v2h-1zM96 229h1v3h-1zM99 224h1v1h-1zM761 342h1v2h-1zM803 196h1v1h-1zM889 384h1v2h-1zM129 206h1v1h-1zM211 396h1v1h-1zM240 458h1v2h-1zM243 464h1v1h-1zM218 411h1v2h-1zM563 522h1v1h-1zM869 340h1v2h-1zM876 356h1v2h-1zM611 542h1v1h-1zM234 448h1v1h-1zM464 478h1v1h-1zM867 337h1v1h-1zM68 248h1v1h-1zM229 444h1v1h-1zM706 583h1v1h-1z" fill="#0000cd" clip-path="url(#cm)" shape-rendering="crispEdges"/>
<path d="M987 201h73v1h-73zM454 200h2v1h-2zM1062 203h2v1h-2zM953 273h2v1h-2zM1060 202h2v1h-2zM786 68h82v1h-82zM1115 252h65v1h-65zM899 204h25v1h-25zM43 91h57v1h-57zM459 196h73v1h-73zM595 372h57v1h-57zM3 130h25v1h-25zM755 72h19v1h-19zM299 329h57v1h-57zM555 298h33v1h-33zM435 260h9v1h-9zM778 70h4v1h-4zM107 31h73v1h-73zM363 343h41v1h-41zM211 178h17v1h-17zM1195 239h8v1h-8zM275 321h17v1h-17zM411 321h9v1h-9zM235 237h25v1h-25zM774 71h4v1h-4zM944 274h2v1h-2zM951 274h2v1h-2zM1091 274h2v1h-2zM723 90h17v1h-17zM180 32h2v1h-2zM680 306h2v1h-2zM1065 205h2v1h-2zM1185 248h2v1h-2zM704 218h2v1h-2zM940 271h2v1h-2zM1182 250h2v1h-2zM675 308h2v1h-2zM700 221h2v1h-2zM949 275h2v1h-2zM1091 275h2v1h-2zM1067 206h9v1h-9zM682 305h2v1h-2zM1180 251h2v1h-2zM1099 262h9v1h-9zM947 276h2v1h-2zM677 307h3v1h-3zM782 69h4v1h-4zM184 35h2v1h-2zM957 264h1v4h-1zM709 191h1v10h-1zM533 201h1v3h-1zM269 273h1v7h-1zM230 197h1v7h-1zM424 294h1v5h-1zM1190 244h1v1h-1zM687 295h1v3h-1zM534 204h1v3h-1zM408 328h1v3h-1zM445 243h1v7h-1zM888 177h1v3h-1zM449 214h1v7h-1zM938 260h1v7h-1zM683 304h1v1h-1zM714 139h1v10h-1zM262 245h1v3h-1zM874 99h1v5h-1zM428 278h1v2h-1zM718 115h1v5h-1zM272 295h1v8h-1zM654 362h1v3h-1zM753 74h1v2h-1zM233 219h1v7h-1zM547 269h1v5h-1zM229 190h1v7h-1zM457 198h1v1h-1zM712 159h1v11h-1zM674 310h1v3h-1zM266 257h1v3h-1zM420 314h1v5h-1zM695 251h1v8h-1zM210 176h1v2h-1zM699 222h1v5h-1zM550 281h1v3h-1zM1079 217h1v3h-1zM100 80h1v8h-1zM662 342h1v2h-1zM883 161h1v5h-1zM104 50h1v8h-1zM1089 262h1v6h-1zM956 268h1v3h-1zM877 117h1v8h-1zM1090 268h1v6h-1zM191 56h1v6h-1zM553 290h1v4h-1zM868 71h1v5h-1zM937 253h1v7h-1zM708 201h1v10h-1zM432 267h1v3h-1zM275 318h1v3h-1zM34 114h1v2h-1zM931 213h1v4h-1zM686 298h1v2h-1zM232 212h1v7h-1zM539 220h1v5h-1zM407 331h1v3h-1zM546 263h1v6h-1zM713 149h1v10h-1zM444 250h1v7h-1zM973 226h1v2h-1zM960 255h1v3h-1zM717 120h1v5h-1zM448 221h1v7h-1zM203 159h1v6h-1zM188 40h1v6h-1zM593 349h1v10h-1zM698 227h1v8h-1zM589 312h1v10h-1zM661 344h1v2h-1zM200 128h1v10h-1zM268 265h1v8h-1zM543 244h1v6h-1zM693 267h1v8h-1zM103 58h1v7h-1zM197 96h1v11h-1zM879 132h1v7h-1zM33 116h1v2h-1zM669 325h1v3h-1zM1085 239h1v6h-1zM711 170h1v10h-1zM592 340h1v9h-1zM933 224h1v7h-1zM102 65h1v8h-1zM893 191h1v2h-1zM261 242h1v3h-1zM202 149h1v10h-1zM234 226h1v8h-1zM271 288h1v7h-1zM894 193h1v2h-1zM443 257h1v3h-1zM41 95h1v3h-1zM267 260h1v5h-1zM199 117h1v11h-1zM357 332h1v2h-1zM959 258h1v3h-1zM209 174h1v2h-1zM228 182h1v8h-1zM1078 214h1v3h-1zM196 86h1v10h-1zM716 125h1v6h-1zM876 110h1v7h-1zM984 206h1v2h-1zM869 76h1v4h-1zM882 154h1v7h-1zM936 246h1v7h-1zM190 51h1v5h-1zM274 310h1v8h-1zM967 238h1v2h-1zM535 207h1v4h-1zM270 280h1v8h-1zM430 272h1v3h-1zM719 109h1v6h-1zM668 328h1v3h-1zM231 204h1v8h-1zM545 257h1v6h-1zM538 217h1v3h-1zM692 275h1v8h-1zM710 180h1v11h-1zM107 32h1v3h-1zM101 73h1v7h-1zM205 167h1v2h-1zM40 98h1v3h-1zM752 76h1v1h-1zM295 325h1v1h-1zM273 303h1v7h-1zM747 82h1v1h-1zM983 208h1v2h-1zM451 203h1v4h-1zM966 240h1v2h-1zM878 125h1v7h-1zM871 85h1v5h-1zM1084 233h1v6h-1zM192 62h1v5h-1zM979 216h1v1h-1zM697 235h1v8h-1zM872 90h1v5h-1zM667 331h1v3h-1zM962 248h1v3h-1zM30 123h1v2h-1zM421 309h1v5h-1zM227 179h1v3h-1zM696 243h1v8h-1zM359 336h1v1h-1zM588 303h1v9h-1zM881 146h1v8h-1zM356 330h1v2h-1zM541 231h1v6h-1zM935 238h1v8h-1zM594 359h1v9h-1zM1189 245h1v1h-1zM671 319h1v3h-1zM201 138h1v11h-1zM446 236h1v7h-1zM450 207h1v7h-1zM590 322h1v9h-1zM591 331h1v9h-1zM198 107h1v10h-1zM961 251h1v4h-1zM195 78h1v8h-1zM723 91h1v2h-1zM235 234h1v3h-1zM37 106h1v3h-1zM1193 241h1v1h-1zM1080 220h1v3h-1zM1083 229h1v4h-1zM423 299h1v5h-1zM887 175h1v2h-1zM1109 259h1v2h-1zM587 299h1v4h-1zM653 365h1v3h-1zM722 93h1v6h-1zM690 289h1v2h-1zM419 319h1v2h-1zM694 259h1v8h-1zM431 270h1v2h-1zM873 95h1v4h-1zM657 353h1v3h-1zM422 304h1v5h-1zM890 183h1v3h-1zM707 211h1v6h-1zM880 139h1v7h-1zM29 125h1v2h-1zM934 231h1v7h-1zM447 228h1v8h-1zM551 284h1v3h-1zM542 237h1v7h-1zM1095 269h1v1h-1zM555 297h1v1h-1zM721 99h1v5h-1zM595 368h1v4h-1zM410 323h1v3h-1zM656 356h1v3h-1zM1087 251h1v5h-1zM664 338h1v2h-1zM751 77h1v1h-1zM28 127h1v2h-1zM1088 256h1v6h-1zM292 322h1v1h-1zM982 210h1v2h-1zM434 262h1v2h-1zM715 131h1v8h-1zM885 169h1v3h-1zM743 86h1v1h-1zM409 326h1v2h-1zM978 217h1v2h-1zM939 267h1v4h-1zM942 272h1v1h-1zM263 248h1v3h-1zM974 224h1v2h-1zM895 195h1v2h-1zM663 340h1v2h-1zM433 264h1v3h-1zM1114 253h1v1h-1zM932 217h1v7h-1zM986 202h1v2h-1zM105 43h1v7h-1zM204 165h1v2h-1zM293 323h1v1h-1zM969 234h1v2h-1zM294 324h1v1h-1zM884 166h1v3h-1zM670 322h1v3h-1zM1108 261h1v1h-1zM42 93h1v2h-1zM897 199h1v2h-1zM358 334h1v2h-1zM689 291h1v2h-1zM1097 265h1v2h-1zM403 342h1v1h-1zM968 236h1v2h-1zM532 198h1v3h-1zM1093 272h1v2h-1zM740 89h1v1h-1zM1086 245h1v6h-1zM702 220h1v1h-1zM427 280h1v4h-1zM456 199h1v1h-1zM673 313h1v3h-1zM552 287h1v3h-1zM744 85h1v1h-1zM930 212h1v1h-1zM889 180h1v3h-1zM193 67h1v5h-1zM106 35h1v8h-1zM750 78h1v1h-1zM1194 240h1v1h-1zM360 337h1v2h-1zM189 46h1v5h-1zM672 316h1v3h-1zM531 197h1v1h-1zM36 109h1v2h-1zM544 250h1v7h-1zM875 104h1v6h-1zM691 283h1v6h-1zM1077 211h1v3h-1zM970 232h1v2h-1zM425 289h1v5h-1zM1113 254h1v2h-1zM659 348h1v2h-1zM540 225h1v6h-1zM411 322h1v1h-1zM924 205h1v1h-1zM965 242h1v2h-1zM194 72h1v6h-1zM1075 207h1v1h-1zM296 326h1v1h-1zM549 277h1v4h-1zM1076 208h1v3h-1zM297 327h1v1h-1zM867 69h1v2h-1zM870 80h1v5h-1zM685 300h1v2h-1zM964 244h1v2h-1zM748 81h1v1h-1zM955 271h1v2h-1zM684 302h1v2h-1zM260 239h1v3h-1zM406 334h1v3h-1zM896 197h1v2h-1zM899 203h1v1h-1zM548 274h1v3h-1zM426 284h1v5h-1zM298 328h1v1h-1zM35 111h1v3h-1zM537 214h1v3h-1zM43 92h1v1h-1zM405 337h1v2h-1zM208 172h1v2h-1zM958 261h1v3h-1zM658 350h1v3h-1zM928 210h1v1h-1zM429 275h1v3h-1zM898 201h1v2h-1zM985 204h1v2h-1zM362 341h1v2h-1zM981 212h1v2h-1zM745 84h1v1h-1zM99 88h1v3h-1zM536 211h1v3h-1zM977 219h1v2h-1zM206 169h1v2h-1zM1096 267h1v2h-1zM452 202h1v1h-1zM1082 226h1v3h-1zM926 207h1v1h-1zM980 214h1v2h-1zM927 208h1v2h-1zM1187 247h1v1h-1zM963 246h1v2h-1zM943 273h1v1h-1zM976 221h1v2h-1zM706 217h1v1h-1zM972 228h1v2h-1zM187 37h1v3h-1zM1191 243h1v1h-1zM720 104h1v5h-1zM32 118h1v2h-1zM892 189h1v2h-1zM1081 223h1v3h-1zM1110 258h1v1h-1zM31 120h1v3h-1zM39 101h1v2h-1zM891 186h1v3h-1zM265 254h1v3h-1zM38 103h1v3h-1zM749 79h1v2h-1zM1184 249h1v1h-1zM741 88h1v1h-1zM1091 276h1v1h-1zM886 172h1v3h-1zM182 33h1v1h-1zM264 251h1v3h-1zM183 34h1v1h-1zM652 368h1v3h-1zM946 275h1v1h-1zM651 371h1v1h-1zM554 294h1v3h-1zM688 293h1v2h-1zM925 206h1v1h-1zM259 238h1v1h-1zM655 359h1v3h-1zM1098 263h1v2h-1zM675 309h1v1h-1zM404 339h1v3h-1zM453 201h1v1h-1zM27 129h1v1h-1zM1094 270h1v2h-1zM666 334h1v2h-1zM207 171h1v1h-1zM1192 242h1v1h-1zM665 336h1v2h-1zM361 339h1v2h-1zM1064 204h1v1h-1zM435 261h1v1h-1zM1111 257h1v1h-1zM971 230h1v2h-1zM660 346h1v2h-1zM929 211h1v1h-1zM186 36h1v1h-1zM742 87h1v1h-1zM458 197h1v1h-1zM746 83h1v1h-1zM703 219h1v1h-1zM1188 246h1v1h-1zM1112 256h1v1h-1zM975 223h1v1h-1zM754 73h1v1h-1z" fill="#ff00ff" clip-path="url(#cm)" shape-rendering="crispEdges"/>
</g>
<g shape-rendering="crispEdges">
<path d="M1064 322h14v1h-14zM641 225h10v1h-10zM238 135h7v1h-7zM707 239h11v1h-11zM302 151h10v1h-10zM181 125h16v1h-16zM35 118h80v1h-80zM333 157h16v1h-16zM458 179h13v1h-13zM1078 324h38v1h-38zM1138 329h23v1h-23zM1188 329h16v1h-16zM587 210h8v1h-8zM3 117h49v1h-49zM992 309h14v1h-14zM1133 328h23v1h-23zM692 236h9v1h-9zM1047 319h11v1h-11zM338 158h15v1h-15zM226 132h8v1h-8zM514 190h8v1h-8zM124 121h34v1h-34zM1052 320h12v1h-12zM931 294h6v1h-6zM560 203h8v1h-8zM743 243h18v1h-18zM158 123h23v1h-23zM501 187h9v1h-9zM934 295h5v1h-5zM923 291h6v1h-6zM564 204h8v1h-8zM770 246h25v1h-25zM214 130h12v1h-12zM847 263h6v1h-6zM913 288h7v1h-7zM1161 331h27v1h-27zM725 242h27v1h-27zM1116 326h17v1h-17zM263 142h8v1h-8zM317 154h11v1h-11zM3 116h32v1h-32zM368 164h7v1h-7zM476 182h10v1h-10zM1122 327h16v1h-16zM613 217h7v1h-7zM669 231h9v1h-9zM371 165h8v1h-8zM252 139h7v1h-7zM902 284h5v1h-5zM421 175h19v1h-19zM540 197h6v1h-6zM892 280h5v1h-5zM1028 315h9v1h-9zM52 119h72v1h-72zM964 305h8v1h-8zM1156 330h48v1h-48zM1071 323h18v1h-18zM241 136h7v1h-7zM895 281h5v1h-5zM297 150h10v1h-10zM529 194h7v1h-7zM884 277h5v1h-5zM953 302h8v1h-8zM816 253h7v1h-7zM245 137h7v1h-7zM877 274h5v1h-5zM416 174h15v1h-15zM293 149h9v1h-9zM399 171h11v1h-11zM637 224h9v1h-9zM780 247h19v1h-19zM230 133h8v1h-8zM682 234h10v1h-10zM856 266h6v1h-6zM450 178h15v1h-15zM383 168h11v1h-11zM506 188h8v1h-8zM687 235h9v1h-9zM1041 318h11v1h-11zM983 308h16v1h-16zM718 241h25v1h-25zM267 143h8v1h-8zM491 185h10v1h-10zM623 220h6v1h-6zM1089 325h33v1h-33zM609 216h7v1h-7zM838 260h6v1h-6zM673 232h9v1h-9zM152 122h12v1h-12zM431 176h19v1h-19zM905 285h5v1h-5zM761 245h19v1h-19zM481 183h10v1h-10zM255 140h8v1h-8zM591 211h8v1h-8zM701 238h11v1h-11zM115 120h37v1h-37zM353 160h7v1h-7zM522 192h7v1h-7zM803 250h9v1h-9zM164 124h25v1h-25zM859 267h5v1h-5zM626 221h7v1h-7zM220 131h10v1h-10zM556 202h8v1h-8zM271 144h9v1h-9zM920 290h6v1h-6zM546 199h7v1h-7zM829 257h6v1h-6zM664 230h9v1h-9zM189 126h14v1h-14zM820 254h6v1h-6zM961 304h7v1h-7zM364 163h7v1h-7zM471 181h10v1h-10zM248 138h7v1h-7zM536 196h7v1h-7zM583 209h8v1h-8zM882 276h5v1h-5zM795 248h8v1h-8zM496 186h10v1h-10zM394 170h11v1h-11zM678 233h9v1h-9zM379 167h10v1h-10zM440 177h18v1h-18zM972 307h20v1h-20zM1023 314h9v1h-9zM312 153h10v1h-10zM197 127h12v1h-12zM526 193h7v1h-7zM1006 311h13v1h-13zM1058 321h13v1h-13zM812 252h8v1h-8zM712 240h13v1h-13zM696 237h11v1h-11zM799 249h9v1h-9zM844 262h6v1h-6zM835 259h6v1h-6zM275 145h9v1h-9zM823 255h6v1h-6zM410 173h11v1h-11zM360 162h8v1h-8zM646 226h9v1h-9zM288 148h9v1h-9zM999 310h14v1h-14zM633 223h8v1h-8zM752 244h18v1h-18zM1037 317h10v1h-10zM280 146h8v1h-8zM917 289h6v1h-6zM203 128h11v1h-11zM389 169h10v1h-10zM907 286h6v1h-6zM660 229h9v1h-9zM533 195h7v1h-7zM518 191h8v1h-8zM1019 313h9v1h-9zM957 303h7v1h-7zM465 180h11v1h-11zM947 300h6v1h-6zM808 251h8v1h-8zM872 272h5v1h-5zM579 208h8v1h-8zM510 189h8v1h-8zM926 292h5v1h-5zM929 293h5v1h-5zM322 155h11v1h-11zM375 166h8v1h-8zM968 306h15v1h-15zM606 215h7v1h-7zM889 279h6v1h-6zM879 275h5v1h-5zM629 222h8v1h-8zM853 265h6v1h-6zM841 261h6v1h-6zM328 156h10v1h-10zM486 184h10v1h-10zM553 201h7v1h-7zM349 159h8v1h-8zM1013 312h10v1h-10zM887 278h5v1h-5zM869 271h5v1h-5zM575 207h8v1h-8zM405 172h11v1h-11zM284 147h9v1h-9zM850 264h6v1h-6zM1032 316h9v1h-9zM616 218h7v1h-7zM603 214h6v1h-6zM357 161h7v1h-7zM942 298h5v1h-5zM209 129h11v1h-11zM550 200h6v1h-6zM655 228h9v1h-9zM950 301h7v1h-7zM572 206h7v1h-7zM910 287h7v1h-7zM599 213h7v1h-7zM874 273h5v1h-5zM867 270h5v1h-5zM939 297h6v1h-6zM900 283h5v1h-5zM307 152h10v1h-10zM651 227h9v1h-9zM826 256h6v1h-6zM945 299h5v1h-5zM234 134h7v1h-7zM568 205h7v1h-7zM543 198h7v1h-7zM259 141h8v1h-8zM832 258h6v1h-6zM595 212h8v1h-8zM862 268h5v1h-5zM864 269h5v1h-5zM620 219h6v1h-6zM937 296h5v1h-5zM897 282h5v1h-5z" fill="#ffa500" clip-path="url(#cm)" shape-rendering="crispEdges"/>
</g>
<g shape-rendering="crispEdges" clip-path="url(#cm)" fill="#dc143c">
<rect x="2" y="356" width="3" height="3"/><rect x="3" y="355" width="1" height="1"/>
<rect x="10" y="342" width="3" height="3"/><rect x="11" y="341" width="1" height="1"/>
<rect x="18" y="330" width="3" height="3"/><rect x="19" y="329" width="1" height="1"/>
<rect x="26" y="318" width="3" height="3"/><rect x="27" y="317" width="1" height="1"/>
<rect x="34" y="306" width="3" height="3"/><rect x="35" y="305" width="1" height="1"/>
<rect x="42" y="290" width="3" height="3"/><rect x="43" y="289" width="1" height="1"/>
<rect x="50" y="270" width="3" height="3"/><rect x="51" y="269" width="1" height="1"/>
<rect x="58" y="252" width="3" height="3"/><rect x="59" y="251" width="1" height="1"/>
<rect x="66" y="236" width="3" height="3"/><rect x="67" y="235" width="1" height="1"/>
<rect x="74" y="222" width="3" height="3"/><rect x="75" y="221" width="1" height="1"/>
<rect x="82" y="208" width="3" height="3"/><rect x="83" y="207" width="1" height="1"/>
<rect x="90" y="194" width="3" height="3"/><rect x="91" y="193" width="1" height="1"/>
<rect x="98" y="181" width="3" height="3"/><rect x="99" y="180" width="1" height="1"/>
<rect x="106" y="170" width="3" height="3"/><rect x="107" y="169" width="1" height="1"/>
<rect x="114" y="151" width="3" height="3"/><rect x="115" y="150" width="1" height="1"/>
<rect x="122" y="30" width="3" height="3"/><rect x="123" y="29" width="1" height="1"/>
<rect x="130" y="34" width="3" height="3"/><rect x="131" y="33" width="1" height="1"/>
<rect x="138" y="41" width="3" height="3"/><rect x="139" y="40" width="1" height="1"/>
<rect x="146" y="52" width="3" height="3"/><rect x="147" y="51" width="1" height="1"/>
<rect x="154" y="62" width="3" height="3"/><rect x="155" y="61" width="1" height="1"/>
<rect x="162" y="78" width="3" height="3"/><rect x="163" y="77" width="1" height="1"/>
<rect x="170" y="104" width="3" height="3"/><rect x="171" y="103" width="1" height="1"/>
<rect x="178" y="128" width="3" height="3"/><rect x="179" y="127" width="1" height="1"/>
<rect x="186" y="149" width="3" height="3"/><rect x="187" y="148" width="1" height="1"/>
<rect x="194" y="168" width="3" height="3"/><rect x="195" y="167" width="1" height="1"/>
<rect x="202" y="195" width="3" height="3"/><rect x="203" y="194" width="1" height="1"/>
<rect x="210" y="219" width="3" height="3"/><rect x="211" y="218" width="1" height="1"/>
<rect x="218" y="240" width="3" height="3"/><rect x="219" y="239" width="1" height="1"/>
<rect x="226" y="264" width="3" height="3"/><rect x="227" y="263" width="1" height="1"/>
<rect x="234" y="293" width="3" height="3"/><rect x="235" y="292" width="1" height="1"/>
<rect x="242" y="321" width="3" height="3"/><rect x="243" y="320" width="1" height="1"/>
<rect x="250" y="465" width="3" height="3"/><rect x="251" y="464" width="1" height="1"/>
<rect x="258" y="334" width="3" height="3"/><rect x="259" y="333" width="1" height="1"/>
<rect x="266" y="334" width="3" height="3"/><rect x="267" y="333" width="1" height="1"/>
<rect x="274" y="467" width="3" height="3"/><rect x="275" y="466" width="1" height="1"/>
<rect x="282" y="465" width="3" height="3"/><rect x="283" y="464" width="1" height="1"/>
<rect x="290" y="328" width="3" height="3"/><rect x="291" y="327" width="1" height="1"/>
<rect x="298" y="328" width="3" height="3"/><rect x="299" y="327" width="1" height="1"/>
<rect x="306" y="331" width="3" height="3"/><rect x="307" y="330" width="1" height="1"/>
<rect x="314" y="334" width="3" height="3"/><rect x="315" y="333" width="1" height="1"/>
<rect x="322" y="336" width="3" height="3"/><rect x="323" y="335" width="1" height="1"/>
<rect x="330" y="339" width="3" height="3"/><rect x="331" y="338" width="1" height="1"/>
<rect x="338" y="341" width="3" height="3"/><rect x="339" y="340" width="1" height="1"/>
<rect x="346" y="468" width="3" height="3"/><rect x="347" y="467" width="1" height="1"/>
<rect x="354" y="468" width="3" height="3"/><rect x="355" y="467" width="1" height="1"/>
<rect x="362" y="342" width="3" height="3"/><rect x="363" y="341" width="1" height="1"/>
<rect x="370" y="346" width="3" height="3"/><rect x="371" y="345" width="1" height="1"/>
<rect x="378" y="351" width="3" height="3"/><rect x="379" y="350" width="1" height="1"/>
<rect x="386" y="355" width="3" height="3"/><rect x="387" y="354" width="1" height="1"/>
<rect x="394" y="359" width="3" height="3"/><rect x="395" y="358" width="1" height="1"/>
<rect x="402" y="557" width="3" height="3"/><rect x="403" y="556" width="1" height="1"/>
<rect x="410" y="553" width="3" height="3"/><rect x="411" y="552" width="1" height="1"/>
<rect x="418" y="544" width="3" height="3"/><rect x="419" y="543" width="1" height="1"/>
<rect x="426" y="530" width="3" height="3"/><rect x="427" y="529" width="1" height="1"/>
<rect x="434" y="510" width="3" height="3"/><rect x="435" y="509" width="1" height="1"/>
<rect x="442" y="485" width="3" height="3"/><rect x="443" y="484" width="1" height="1"/>
<rect x="450" y="462" width="3" height="3"/><rect x="451" y="461" width="1" height="1"/>
<rect x="458" y="431" width="3" height="3"/><rect x="459" y="430" width="1" height="1"/>
<rect x="466" y="398" width="3" height="3"/><rect x="467" y="397" width="1" height="1"/>
<rect x="474" y="370" width="3" height="3"/><rect x="475" y="369" width="1" height="1"/>
<rect x="482" y="195" width="3" height="3"/><rect x="483" y="194" width="1" height="1"/>
<rect x="490" y="199" width="3" height="3"/><rect x="491" y="198" width="1" height="1"/>
<rect x="498" y="206" width="3" height="3"/><rect x="499" y="205" width="1" height="1"/>
<rect x="506" y="221" width="3" height="3"/><rect x="507" y="220" width="1" height="1"/>
<rect x="514" y="236" width="3" height="3"/><rect x="515" y="235" width="1" height="1"/>
<rect x="522" y="249" width="3" height="3"/><rect x="523" y="248" width="1" height="1"/>
<rect x="530" y="266" width="3" height="3"/><rect x="531" y="265" width="1" height="1"/>
<rect x="538" y="291" width="3" height="3"/><rect x="539" y="290" width="1" height="1"/>
<rect x="546" y="314" width="3" height="3"/><rect x="547" y="313" width="1" height="1"/>
<rect x="554" y="335" width="3" height="3"/><rect x="555" y="334" width="1" height="1"/>
<rect x="562" y="353" width="3" height="3"/><rect x="563" y="352" width="1" height="1"/>
<rect x="570" y="370" width="3" height="3"/><rect x="571" y="369" width="1" height="1"/>
<rect x="578" y="390" width="3" height="3"/><rect x="579" y="389" width="1" height="1"/>
<rect x="586" y="540" width="3" height="3"/><rect x="587" y="539" width="1" height="1"/>
<rect x="594" y="537" width="3" height="3"/><rect x="595" y="536" width="1" height="1"/>
<rect x="602" y="534" width="3" height="3"/><rect x="603" y="533" width="1" height="1"/>
<rect x="610" y="371" width="3" height="3"/><rect x="611" y="370" width="1" height="1"/>
<rect x="618" y="374" width="3" height="3"/><rect x="619" y="373" width="1" height="1"/>
<rect x="626" y="381" width="3" height="3"/><rect x="627" y="380" width="1" height="1"/>
<rect x="634" y="394" width="3" height="3"/><rect x="635" y="393" width="1" height="1"/>
<rect x="642" y="405" width="3" height="3"/><rect x="643" y="404" width="1" height="1"/>
<rect x="650" y="587" width="3" height="3"/><rect x="651" y="586" width="1" height="1"/>
<rect x="658" y="583" width="3" height="3"/><rect x="659" y="582" width="1" height="1"/>
<rect x="666" y="573" width="3" height="3"/><rect x="667" y="572" width="1" height="1"/>
<rect x="674" y="559" width="3" height="3"/><rect x="675" y="558" width="1" height="1"/>
<rect x="682" y="539" width="3" height="3"/><rect x="683" y="538" width="1" height="1"/>
<rect x="690" y="515" width="3" height="3"/><rect x="691" y="514" width="1" height="1"/>
<rect x="698" y="487" width="3" height="3"/><rect x="699" y="486" width="1" height="1"/>
<rect x="706" y="450" width="3" height="3"/><rect x="707" y="449" width="1" height="1"/>
<rect x="714" y="412" width="3" height="3"/><rect x="715" y="411" width="1" height="1"/>
<rect x="722" y="362" width="3" height="3"/><rect x="723" y="361" width="1" height="1"/>
<rect x="730" y="307" width="3" height="3"/><rect x="731" y="306" width="1" height="1"/>
<rect x="738" y="263" width="3" height="3"/><rect x="739" y="262" width="1" height="1"/>
<rect x="746" y="228" width="3" height="3"/><rect x="747" y="227" width="1" height="1"/>
<rect x="754" y="199" width="3" height="3"/><rect x="755" y="198" width="1" height="1"/>
<rect x="762" y="71" width="3" height="3"/><rect x="763" y="70" width="1" height="1"/>
<rect x="770" y="71" width="3" height="3"/><rect x="771" y="70" width="1" height="1"/>
<rect x="778" y="194" width="3" height="3"/><rect x="779" y="193" width="1" height="1"/>
<rect x="786" y="192" width="3" height="3"/><rect x="787" y="191" width="1" height="1"/>
<rect x="794" y="187" width="3" height="3"/><rect x="795" y="186" width="1" height="1"/>
<rect x="802" y="67" width="3" height="3"/><rect x="803" y="66" width="1" height="1"/>
<rect x="810" y="67" width="3" height="3"/><rect x="811" y="66" width="1" height="1"/>
<rect x="818" y="73" width="3" height="3"/><rect x="819" y="72" width="1" height="1"/>
<rect x="826" y="85" width="3" height="3"/><rect x="827" y="84" width="1" height="1"/>
<rect x="834" y="103" width="3" height="3"/><rect x="835" y="102" width="1" height="1"/>
<rect x="842" y="120" width="3" height="3"/><rect x="843" y="119" width="1" height="1"/>
<rect x="850" y="141" width="3" height="3"/><rect x="851" y="140" width="1" height="1"/>
<rect x="858" y="161" width="3" height="3"/><rect x="859" y="160" width="1" height="1"/>
<rect x="866" y="178" width="3" height="3"/><rect x="867" y="177" width="1" height="1"/>
<rect x="874" y="194" width="3" height="3"/><rect x="875" y="193" width="1" height="1"/>
<rect x="882" y="213" width="3" height="3"/><rect x="883" y="212" width="1" height="1"/>
<rect x="890" y="236" width="3" height="3"/><rect x="891" y="235" width="1" height="1"/>
<rect x="898" y="260" width="3" height="3"/><rect x="899" y="259" width="1" height="1"/>
<rect x="906" y="285" width="3" height="3"/><rect x="907" y="284" width="1" height="1"/>
<rect x="914" y="309" width="3" height="3"/><rect x="915" y="308" width="1" height="1"/>
<rect x="922" y="404" width="3" height="3"/><rect x="923" y="403" width="1" height="1"/>
<rect x="930" y="402" width="3" height="3"/><rect x="931" y="401" width="1" height="1"/>
<rect x="938" y="300" width="3" height="3"/><rect x="939" y="299" width="1" height="1"/>
<rect x="946" y="302" width="3" height="3"/><rect x="947" y="301" width="1" height="1"/>
<rect x="954" y="413" width="3" height="3"/><rect x="955" y="412" width="1" height="1"/>
<rect x="962" y="413" width="3" height="3"/><rect x="963" y="412" width="1" height="1"/>
<rect x="970" y="406" width="3" height="3"/><rect x="971" y="405" width="1" height="1"/>
<rect x="978" y="395" width="3" height="3"/><rect x="979" y="394" width="1" height="1"/>
<rect x="986" y="381" width="3" height="3"/><rect x="987" y="380" width="1" height="1"/>
<rect x="994" y="363" width="3" height="3"/><rect x="995" y="362" width="1" height="1"/>
<rect x="1002" y="346" width="3" height="3"/><rect x="1003" y="345" width="1" height="1"/>
<rect x="1010" y="332" width="3" height="3"/><rect x="1011" y="331" width="1" height="1"/>
<rect x="1018" y="200" width="3" height="3"/><rect x="1019" y="199" width="1" height="1"/>
<rect x="1026" y="203" width="3" height="3"/><rect x="1027" y="202" width="1" height="1"/>
<rect x="1034" y="209" width="3" height="3"/><rect x="1035" y="208" width="1" height="1"/>
<rect x="1042" y="221" width="3" height="3"/><rect x="1043" y="220" width="1" height="1"/>
<rect x="1050" y="236" width="3" height="3"/><rect x="1051" y="235" width="1" height="1"/>
<rect x="1058" y="249" width="3" height="3"/><rect x="1059" y="248" width="1" height="1"/>
<rect x="1066" y="262" width="3" height="3"/><rect x="1067" y="261" width="1" height="1"/>
<rect x="1074" y="273" width="3" height="3"/><rect x="1075" y="272" width="1" height="1"/>
<rect x="1082" y="284" width="3" height="3"/><rect x="1083" y="283" width="1" height="1"/>
<rect x="1090" y="294" width="3" height="3"/><rect x="1091" y="293" width="1" height="1"/>
<rect x="1098" y="406" width="3" height="3"/><rect x="1099" y="405" width="1" height="1"/>
<rect x="1106" y="403" width="3" height="3"/><rect x="1107" y="402" width="1" height="1"/>
<rect x="1114" y="400" width="3" height="3"/><rect x="1115" y="399" width="1" height="1"/>
<rect x="1122" y="395" width="3" height="3"/><rect x="1123" y="394" width="1" height="1"/>
<rect x="1130" y="389" width="3" height="3"/><rect x="1131" y="388" width="1" height="1"/>
<rect x="1138" y="383" width="3" height="3"/><rect x="1139" y="382" width="1" height="1"/>
<rect x="1146" y="378" width="3" height="3"/><rect x="1147" y="377" width="1" height="1"/>
<rect x="1154" y="373" width="3" height="3"/><rect x="1155" y="372" width="1" height="1"/>
<rect x="1162" y="368" width="3" height="3"/><rect x="1163" y="367" width="1" height="1"/>
<rect x="1170" y="363" width="3" height="3"/><rect x="1171" y="362" width="1" height="1"/>
<rect x="1178" y="359" width="3" height="3"/><rect x="1179" y="358" width="1" height="1"/>
<rect x="1186" y="355" width="3" height="3"/><rect x="1187" y="354" width="1" height="1"/>
<rect x="1194" y="348" width="3" height="3"/><rect x="1195" y="347" width="1" height="1"/>
<rect x="1202" y="339" width="3" height="3"/><rect x="1203" y="338" width="1" height="1"/>
</g>
<g clip-path="url(#cm)">
<path d="M3.5,115 L-2.5,124.5 L3.5,121.5 Z" fill="#00ffff"/>
<path d="M3.5,115.5 L8.7,124.5 L3.5,121.5" fill="none" stroke="#008888" stroke-width="0.9"/>
<path d="M43.5,76 L37.5,85.5 L43.5,82.5 Z" fill="#00ffff"/>
<path d="M43.5,76.5 L48.7,85.5 L43.5,82.5" fill="none" stroke="#008888" stroke-width="0.9"/>
<path d="M83.5,76 L77.5,85.5 L83.5,82.5 Z" fill="#00ffff"/>
<path d="M83.5,76.5 L88.7,85.5 L83.5,82.5" fill="none" stroke="#008888" stroke-width="0.9"/>
<path d="M107.5,16 L101.5,25.5 L107.5,22.5 Z" fill="#00ffff"/>
<path d="M107.5,16.5 L112.7,25.5 L107.5,22.5" fill="none" stroke="#008888" stroke-width="0.9"/>
<path d="M155.5,163 L149.5,172.5 L155.5,169.5 Z" fill="#00ffff"/>
<path d="M155.5,163.5 L160.7,172.5 L155.5,169.5" fill="none" stroke="#008888" stroke-width="0.9"/>
<path d="M187.5,222 L181.5,231.5 L187.5,228.5 Z" fill="#00ffff"/>
<path d="M187.5,222.5 L192.7,231.5 L187.5,228.5" fill="none" stroke="#008888" stroke-width="0.9"/>
<path d="M219.5,306 L213.5,315.5 L219.5,312.5 Z" fill="#00ffff"/>
<path d="M219.5,306.5 L224.7,315.5 L219.5,312.5" fill="none" stroke="#008888" stroke-width="0.9"/>
<path d="M251.5,320 L245.5,329.5 L251.5,326.5 Z" fill="#00ffff"/>
<path d="M251.5,320.5 L256.7,329.5 L251.5,326.5" fill="none" stroke="#008888" stroke-width="0.9"/>
<path d="M283.5,314 L277.5,323.5 L283.5,320.5 Z" fill="#00ffff"/>
<path d="M283.5,314.5 L288.7,323.5 L283.5,320.5" fill="none" stroke="#008888" stroke-width="0.9"/>
<path d="M347.5,328 L341.5,337.5 L347.5,334.5 Z" fill="#00ffff"/>
<path d="M347.5,328.5 L352.7,337.5 L347.5,334.5" fill="none" stroke="#008888" stroke-width="0.9"/>
<path d="M459.5,181 L453.5,190.5 L459.5,187.5 Z" fill="#00ffff"/>
<path d="M459.5,181.5 L464.7,190.5 L459.5,187.5" fill="none" stroke="#008888" stroke-width="0.9"/>
<path d="M515.5,283 L509.5,292.5 L515.5,289.5 Z" fill="#00ffff"/>
<path d="M515.5,283.5 L520.7,292.5 L515.5,289.5" fill="none" stroke="#008888" stroke-width="0.9"/>
<path d="M547.5,385 L541.5,394.5 L547.5,391.5 Z" fill="#00ffff"/>
<path d="M547.5,385.5 L552.7,394.5 L547.5,391.5" fill="none" stroke="#008888" stroke-width="0.9"/>
<path d="M587.5,357 L581.5,366.5 L587.5,363.5 Z" fill="#00ffff"/>
<path d="M587.5,357.5 L592.7,366.5 L587.5,363.5" fill="none" stroke="#008888" stroke-width="0.9"/>
<path d="M723.5,75 L717.5,84.5 L723.5,81.5 Z" fill="#00ffff"/>
<path d="M723.5,75.5 L728.7,84.5 L723.5,81.5" fill="none" stroke="#008888" stroke-width="0.9"/>
<path d="M755.5,57 L749.5,66.5 L755.5,63.5 Z" fill="#00ffff"/>
<path d="M755.5,57.5 L760.7,66.5 L755.5,63.5" fill="none" stroke="#008888" stroke-width="0.9"/>
<path d="M795.5,53 L789.5,62.5 L795.5,59.5 Z" fill="#00ffff"/>
<path d="M795.5,53.5 L800.7,62.5 L795.5,59.5" fill="none" stroke="#008888" stroke-width="0.9"/>
<path d="M851.5,189 L845.5,198.5 L851.5,195.5 Z" fill="#00ffff"/>
<path d="M851.5,189.5 L856.7,198.5 L851.5,195.5" fill="none" stroke="#008888" stroke-width="0.9"/>
<path d="M923.5,286 L917.5,295.5 L923.5,292.5 Z" fill="#00ffff"/>
<path d="M923.5,286.5 L928.7,295.5 L923.5,292.5" fill="none" stroke="#008888" stroke-width="0.9"/>
<path d="M987.5,186 L981.5,195.5 L987.5,192.5 Z" fill="#00ffff"/>
<path d="M987.5,186.5 L992.7,195.5 L987.5,192.5" fill="none" stroke="#008888" stroke-width="0.9"/>
<path d="M1115.5,237 L1109.5,246.5 L1115.5,243.5 Z" fill="#00ffff"/>
<path d="M1115.5,237.5 L1120.7,246.5 L1115.5,243.5" fill="none" stroke="#008888" stroke-width="0.9"/>
<path d="M18.8,256 L24.5,246 L18.8,248.5 Z" fill="#00ffff"/>
<path d="M18.8,255.5 L13.3,246 L18.8,248.5" fill="none" stroke="#008888" stroke-width="0.9"/>
<path d="M66.8,213 L72.5,203 L66.8,205.5 Z" fill="#00ffff"/>
<path d="M66.8,212.5 L61.3,203 L66.8,205.5" fill="none" stroke="#008888" stroke-width="0.9"/>
<path d="M162.8,355 L168.5,345 L162.8,347.5 Z" fill="#00ffff"/>
<path d="M162.8,354.5 L157.3,345 L162.8,347.5" fill="none" stroke="#008888" stroke-width="0.9"/>
<path d="M194.8,409 L200.5,399 L194.8,401.5 Z" fill="#00ffff"/>
<path d="M194.8,408.5 L189.3,399 L194.8,401.5" fill="none" stroke="#008888" stroke-width="0.9"/>
<path d="M258.8,482 L264.5,472 L258.8,474.5 Z" fill="#00ffff"/>
<path d="M258.8,481.5 L253.3,472 L258.8,474.5" fill="none" stroke="#008888" stroke-width="0.9"/>
<path d="M290.8,479 L296.5,469 L290.8,471.5 Z" fill="#00ffff"/>
<path d="M290.8,478.5 L285.3,469 L290.8,471.5" fill="none" stroke="#008888" stroke-width="0.9"/>
<path d="M338.8,483 L344.5,473 L338.8,475.5 Z" fill="#00ffff"/>
<path d="M338.8,482.5 L333.3,473 L338.8,475.5" fill="none" stroke="#008888" stroke-width="0.9"/>
<path d="M362.8,572 L368.5,562 L362.8,564.5 Z" fill="#00ffff"/>
<path d="M362.8,571.5 L357.3,562 L362.8,564.5" fill="none" stroke="#008888" stroke-width="0.9"/>
<path d="M418.8,416 L424.5,406 L418.8,408.5 Z" fill="#00ffff"/>
<path d="M418.8,415.5 L413.3,406 L418.8,408.5" fill="none" stroke="#008888" stroke-width="0.9"/>
<path d="M498.8,472 L504.5,462 L498.8,464.5 Z" fill="#00ffff"/>
<path d="M498.8,471.5 L493.3,462 L498.8,464.5" fill="none" stroke="#008888" stroke-width="0.9"/>
<path d="M530.8,535 L536.5,525 L530.8,527.5 Z" fill="#00ffff"/>
<path d="M530.8,534.5 L525.3,525 L530.8,527.5" fill="none" stroke="#008888" stroke-width="0.9"/>
<path d="M570.8,555 L576.5,545 L570.8,547.5 Z" fill="#00ffff"/>
<path d="M570.8,554.5 L565.3,545 L570.8,547.5" fill="none" stroke="#008888" stroke-width="0.9"/>
<path d="M626.8,602 L632.5,592 L626.8,594.5 Z" fill="#00ffff"/>
<path d="M626.8,601.5 L621.3,592 L626.8,594.5" fill="none" stroke="#008888" stroke-width="0.9"/>
<path d="M762.8,209 L768.5,199 L762.8,201.5 Z" fill="#00ffff"/>
<path d="M762.8,208.5 L757.3,199 L762.8,201.5" fill="none" stroke="#008888" stroke-width="0.9"/>
<path d="M842.8,350 L848.5,340 L842.8,342.5 Z" fill="#00ffff"/>
<path d="M842.8,349.5 L837.3,340 L842.8,342.5" fill="none" stroke="#008888" stroke-width="0.9"/>
<path d="M906.8,419 L912.5,409 L906.8,411.5 Z" fill="#00ffff"/>
<path d="M906.8,418.5 L901.3,409 L906.8,411.5" fill="none" stroke="#008888" stroke-width="0.9"/>
<path d="M946.8,428 L952.5,418 L946.8,420.5 Z" fill="#00ffff"/>
<path d="M946.8,427.5 L941.3,418 L946.8,420.5" fill="none" stroke="#008888" stroke-width="0.9"/>
<path d="M1042.8,421 L1048.5,411 L1042.8,413.5 Z" fill="#00ffff"/>
<path d="M1042.8,420.5 L1037.3,411 L1042.8,413.5" fill="none" stroke="#008888" stroke-width="0.9"/>
<path d="M1074.8,397 L1080.5,387 L1074.8,389.5 Z" fill="#00ffff"/>
<path d="M1074.8,396.5 L1069.3,387 L1074.8,389.5" fill="none" stroke="#008888" stroke-width="0.9"/>
<path d="M1130.8,369 L1136.5,359 L1130.8,361.5 Z" fill="#00ffff"/>
<path d="M1130.8,368.5 L1125.3,359 L1130.8,361.5" fill="none" stroke="#008888" stroke-width="0.9"/>
</g>
<g shape-rendering="crispEdges">
<line x1="4" y1="631.5" x2="1255" y2="631.5" stroke="#ff00ff" stroke-width="1" stroke-dasharray="3,3"/>
<line x1="4" y1="664.5" x2="1255" y2="664.5" stroke="#ff00ff" stroke-width="1" stroke-dasharray="3,3"/>
<path d="M18 640h3v1h-3zM42 640h6v1h-6zM82 640h6v1h-6zM94 640h4v1h-4zM424 640h2v1h-2zM432 640h8v1h-8zM464 640h2v1h-2zM659 640h5v1h-5zM670 640h4v1h-4zM678 640h4v1h-4zM798 640h2v1h-2zM1185 640h2v1h-2zM1188 640h2v1h-2zM134 650h4v1h-4zM144 650h5v1h-5zM350 650h2v1h-2zM492 650h2v1h-2zM842 650h3v1h-3zM857 650h2v1h-2zM1017 650h2v1h-2zM1022 650h4v1h-4zM1028 650h2v1h-2zM1085 650h2v1h-2zM1130 650h11v1h-11zM1154 650h2v1h-2zM35 637h2v1h-2zM75 637h2v1h-2zM106 637h6v1h-6zM460 637h2v1h-2zM690 637h2v1h-2zM764 637h2v1h-2zM793 637h2v1h-2zM188 654h2v1h-2zM285 654h2v1h-2zM306 654h14v1h-14zM326 654h4v1h-4zM355 654h2v1h-2zM371 654h5v1h-5zM382 654h4v1h-4zM501 654h2v1h-2zM522 654h3v1h-3zM546 654h6v1h-6zM605 654h3v1h-3zM826 654h6v1h-6zM872 654h2v1h-2zM928 654h5v1h-5zM1045 654h3v1h-3zM151 652h2v1h-2zM182 652h4v1h-4zM272 652h8v1h-8zM388 652h2v1h-2zM505 652h2v1h-2zM512 652h6v1h-6zM541 652h3v1h-3zM595 652h5v1h-5zM821 652h3v1h-3zM837 652h3v1h-3zM864 652h5v1h-5zM1050 652h14v1h-14zM1070 652h4v1h-4zM193 657h2v1h-2zM206 657h4v1h-4zM212 657h2v1h-2zM291 657h10v1h-10zM338 657h2v1h-2zM361 657h2v1h-2zM365 657h2v1h-2zM529 657h2v1h-2zM562 657h10v1h-10zM613 657h3v1h-3zM880 657h2v1h-2zM896 657h6v1h-6zM937 657h2v1h-2zM941 657h2v1h-2zM397 647h3v1h-3zM475 647h11v1h-11zM584 647h4v1h-4zM850 647h3v1h-3zM959 647h2v1h-2zM1010 647h3v1h-3zM1091 647h2v1h-2zM1121 647h2v1h-2zM1146 647h3v1h-3zM402 645h11v1h-11zM646 645h4v1h-4zM810 645h2v1h-2zM955 645h2v1h-2zM968 645h2v1h-2zM987 645h2v1h-2zM1005 645h3v1h-3zM1095 645h2v1h-2zM1117 645h2v1h-2zM1166 645h4v1h-4zM1173 645h3v1h-3zM128 649h6v1h-6zM393 649h2v1h-2zM490 649h2v1h-2zM590 649h2v1h-2zM816 649h2v1h-2zM845 649h3v1h-3zM855 649h2v1h-2zM1015 649h2v1h-2zM1026 649h2v1h-2zM1087 649h2v1h-2zM1126 649h4v1h-4zM1141 649h3v1h-3zM1152 649h2v1h-2zM1156 649h2v1h-2zM138 651h6v1h-6zM149 651h2v1h-2zM179 651h3v1h-3zM390 651h2v1h-2zM507 651h5v1h-5zM539 651h2v1h-2zM593 651h2v1h-2zM819 651h2v1h-2zM840 651h2v1h-2zM859 651h5v1h-5zM1019 651h3v1h-3zM1074 651h11v1h-11zM153 653h2v1h-2zM186 653h2v1h-2zM267 653h5v1h-5zM280 653h5v1h-5zM320 653h6v1h-6zM386 653h2v1h-2zM496 653h2v1h-2zM503 653h2v1h-2zM518 653h4v1h-4zM544 653h2v1h-2zM600 653h5v1h-5zM824 653h2v1h-2zM832 653h5v1h-5zM869 653h3v1h-3zM915 653h13v1h-13zM1032 653h2v1h-2zM1048 653h2v1h-2zM1064 653h6v1h-6zM9 641h2v1h-2zM14 641h4v1h-4zM21 641h3v1h-3zM48 641h14v1h-14zM88 641h6v1h-6zM421 641h3v1h-3zM440 641h4v1h-4zM657 641h2v1h-2zM674 641h4v1h-4zM978 641h3v1h-3zM995 641h2v1h-2zM1183 641h2v1h-2zM1190 641h2v1h-2zM699 632h5v1h-5zM709 632h2v1h-2zM6 639h2v1h-2zM32 639h2v1h-2zM40 639h2v1h-2zM72 639h2v1h-2zM80 639h2v1h-2zM98 639h4v1h-4zM426 639h6v1h-6zM664 639h6v1h-6zM682 639h4v1h-4zM796 639h2v1h-2zM413 644h3v1h-3zM470 644h2v1h-2zM650 644h3v1h-3zM806 644h4v1h-4zM985 644h2v1h-2zM989 644h2v1h-2zM1002 644h3v1h-3zM1097 644h2v1h-2zM1112 644h5v1h-5zM1163 644h3v1h-3zM1176 644h2v1h-2zM1195 644h2v1h-2zM26 643h2v1h-2zM66 643h2v1h-2zM416 643h2v1h-2zM468 643h2v1h-2zM653 643h2v1h-2zM803 643h3v1h-3zM971 643h3v1h-3zM983 643h2v1h-2zM991 643h2v1h-2zM1000 643h2v1h-2zM1099 643h13v1h-13zM1178 643h3v1h-3zM1193 643h2v1h-2zM1197 643h3v1h-3zM156 655h2v1h-2zM174 655h2v1h-2zM190 655h2v1h-2zM287 655h2v1h-2zM304 655h2v1h-2zM330 655h4v1h-4zM357 655h2v1h-2zM369 655h2v1h-2zM376 655h6v1h-6zM499 655h2v1h-2zM525 655h2v1h-2zM534 655h2v1h-2zM552 655h6v1h-6zM608 655h2v1h-2zM874 655h3v1h-3zM912 655h2v1h-2zM933 655h2v1h-2zM945 655h2v1h-2zM1035 655h10v1h-10zM697 633h2v1h-2zM704 633h5v1h-5zM771 633h5v1h-5zM784 633h4v1h-4zM160 658h2v1h-2zM170 658h2v1h-2zM195 658h11v1h-11zM214 658h2v1h-2zM242 658h10v1h-10zM363 658h2v1h-2zM616 658h2v1h-2zM882 658h14v1h-14zM902 658h4v1h-4zM908 658h2v1h-2zM939 658h2v1h-2zM123 648h5v1h-5zM395 648h2v1h-2zM486 648h4v1h-4zM579 648h5v1h-5zM588 648h2v1h-2zM848 648h2v1h-2zM853 648h2v1h-2zM961 648h2v1h-2zM964 648h2v1h-2zM1013 648h2v1h-2zM1089 648h2v1h-2zM1123 648h3v1h-3zM1144 648h2v1h-2zM1149 648h3v1h-3zM11 642h3v1h-3zM24 642h2v1h-2zM28 642h2v1h-2zM62 642h4v1h-4zM68 642h2v1h-2zM418 642h3v1h-3zM655 642h2v1h-2zM801 642h2v1h-2zM974 642h4v1h-4zM981 642h2v1h-2zM993 642h2v1h-2zM997 642h3v1h-3zM1181 642h2v1h-2zM1200 642h2v1h-2zM4 638h2v1h-2zM37 638h3v1h-3zM77 638h3v1h-3zM102 638h4v1h-4zM112 638h4v1h-4zM446 638h2v1h-2zM686 638h4v1h-4zM163 660h3v1h-3zM217 660h2v1h-2zM237 660h3v1h-3zM254 660h2v1h-2zM624 660h8v1h-8zM722 627h12v1h-12zM166 659h4v1h-4zM240 659h2v1h-2zM252 659h2v1h-2zM618 659h6v1h-6zM632 659h4v1h-4zM906 659h2v1h-2zM224 662h8v1h-8zM257 662h2v1h-2zM711 631h2v1h-2zM754 631h2v1h-2zM458 636h2v1h-2zM692 636h2v1h-2zM766 636h2v1h-2zM210 656h2v1h-2zM289 656h2v1h-2zM301 656h3v1h-3zM334 656h4v1h-4zM359 656h2v1h-2zM367 656h2v1h-2zM527 656h2v1h-2zM558 656h4v1h-4zM610 656h3v1h-3zM877 656h3v1h-3zM935 656h2v1h-2zM943 656h2v1h-2zM400 646h2v1h-2zM473 646h2v1h-2zM643 646h3v1h-3zM812 646h2v1h-2zM957 646h2v1h-2zM1008 646h2v1h-2zM1093 646h2v1h-2zM1119 646h2v1h-2zM1160 646h2v1h-2zM1170 646h3v1h-3zM219 661h5v1h-5zM232 661h5v1h-5zM718 628h4v1h-4zM734 628h4v1h-4zM744 628h5v1h-5zM454 635h4v1h-4zM694 635h2v1h-2zM790 635h2v1h-2zM451 634h3v1h-3zM758 634h2v1h-2zM769 634h2v1h-2zM776 634h8v1h-8zM788 634h2v1h-2zM715 629h3v1h-3zM738 629h6v1h-6zM749 629h3v1h-3zM713 630h2v1h-2zM752 630h2v1h-2zM344 651h1v1h-1zM642 647h1v2h-1zM345 649h1v2h-1zM498 654h1v1h-1zM1159 647h1v1h-1zM162 659h1v1h-1zM348 648h1v1h-1zM8 640h1v1h-1zM1162 645h1v1h-1zM266 654h1v1h-1zM638 654h1v1h-1zM640 651h1v1h-1zM392 650h1v1h-1zM967 646h1v1h-1zM116 639h1v1h-1zM576 651h1v1h-1zM265 655h1v2h-1zM462 638h1v1h-1zM256 661h1v1h-1zM592 650h1v1h-1zM966 647h1v1h-1zM117 640h1v2h-1zM572 656h1v1h-1zM575 652h1v2h-1zM952 648h1v1h-1zM531 658h1v1h-1zM636 657h1v2h-1zM948 653h1v1h-1zM173 656h1v1h-1zM122 647h1v1h-1zM346 648h1v1h-1zM756 632h1v1h-1zM947 654h1v1h-1zM34 638h1v1h-1zM172 657h1v1h-1zM342 653h1v1h-1zM343 652h1v1h-1zM792 636h1v1h-1zM349 649h1v1h-1zM341 654h1v2h-1zM216 659h1v1h-1zM768 635h1v1h-1zM639 652h1v2h-1zM641 649h1v2h-1zM970 644h1v1h-1zM951 649h1v2h-1zM1187 639h1v1h-1zM70 641h1v1h-1zM463 639h1v1h-1zM911 656h1v1h-1zM494 651h1v1h-1zM30 641h1v1h-1zM818 650h1v1h-1zM347 647h1v1h-1zM158 656h1v1h-1zM121 645h1v2h-1zM495 652h1v1h-1zM178 652h1v1h-1zM159 657h1v1h-1zM177 653h1v1h-1zM637 655h1v2h-1zM760 635h1v1h-1zM1030 651h1v1h-1zM795 638h1v1h-1zM352 651h1v1h-1zM761 636h1v1h-1zM261 660h1v2h-1zM533 656h1v1h-1zM192 656h1v1h-1zM1031 652h1v1h-1zM260 662h1v1h-1zM573 655h1v1h-1zM1192 642h1v1h-1zM118 642h1v1h-1zM532 657h1v1h-1zM762 637h1v1h-1zM71 640h1v1h-1zM949 652h1v1h-1zM31 640h1v1h-1zM119 643h1v1h-1zM814 647h1v1h-1zM763 638h1v1h-1zM466 641h1v1h-1zM74 638h1v1h-1zM910 657h1v1h-1zM815 648h1v1h-1zM444 640h1v1h-1zM467 642h1v1h-1zM445 639h1v1h-1zM1158 648h1v1h-1zM450 635h1v1h-1zM914 654h1v1h-1zM800 641h1v1h-1zM120 644h1v1h-1zM340 656h1v1h-1zM448 637h1v1h-1zM757 633h1v1h-1zM449 636h1v1h-1zM264 657h1v1h-1zM578 649h1v1h-1zM176 654h1v1h-1zM1202 641h1v1h-1zM574 654h1v1h-1zM577 650h1v1h-1zM953 647h1v1h-1zM963 649h1v1h-1zM3 637h1v1h-1zM954 646h1v1h-1zM263 658h1v1h-1zM538 652h1v1h-1zM1034 654h1v1h-1zM353 652h1v1h-1zM950 651h1v1h-1zM696 634h1v1h-1zM259 663h1v1h-1zM536 654h1v1h-1zM262 659h1v1h-1zM537 653h1v1h-1zM354 653h1v1h-1zM472 645h1v1h-1zM155 654h1v1h-1z" fill="#00ffff" clip-path="url(#cr)" shape-rendering="crispEdges"/>
</g>
<g shape-rendering="crispEdges" clip-path="url(#cd)" fill="#00ffff">
<rect x="2" y="712" width="3" height="29"/>
<rect x="10" y="714" width="3" height="27"/>
<rect x="18" y="714" width="3" height="27"/>
<rect x="26" y="715" width="3" height="26"/>
<rect x="34" y="714" width="3" height="27"/>
<rect x="42" y="714" width="3" height="27"/>
<rect x="50" y="714" width="3" height="27"/>
<rect x="58" y="715" width="3" height="26"/>
<rect x="66" y="717" width="3" height="24"/>
<rect x="74" y="716" width="3" height="25"/>
<rect x="82" y="716" width="3" height="25"/>
<rect x="90" y="716" width="3" height="25"/>
<rect x="98" y="716" width="3" height="25"/>
<rect x="106" y="715" width="3" height="26"/>
<rect x="114" y="714" width="3" height="27"/>
<rect x="122" y="719" width="3" height="22"/>
<rect x="130" y="723" width="3" height="18"/>
<rect x="138" y="727" width="3" height="14"/>
<rect x="146" y="730" width="3" height="11"/>
<rect x="154" y="735" width="3" height="6"/>
<rect x="162" y="741" width="3" height="2"/>
<rect x="170" y="741" width="3" height="6"/>
<rect x="178" y="741" width="3" height="8"/>
<rect x="186" y="741" width="3" height="9"/>
<rect x="194" y="741" width="3" height="13"/>
<rect x="202" y="741" width="3" height="17"/>
<rect x="210" y="741" width="3" height="19"/>
<rect x="218" y="741" width="3" height="23"/>
<rect x="226" y="741" width="3" height="27"/>
<rect x="234" y="741" width="3" height="29"/>
<rect x="242" y="741" width="3" height="30"/>
<rect x="250" y="741" width="3" height="30"/>
<rect x="258" y="741" width="3" height="33"/>
<rect x="266" y="741" width="3" height="31"/>
<rect x="274" y="741" width="3" height="29"/>
<rect x="282" y="741" width="3" height="27"/>
<rect x="290" y="741" width="3" height="28"/>
<rect x="298" y="741" width="3" height="28"/>
<rect x="306" y="741" width="3" height="28"/>
<rect x="314" y="741" width="3" height="26"/>
<rect x="322" y="741" width="3" height="25"/>
<rect x="330" y="741" width="3" height="24"/>
<rect x="338" y="741" width="3" height="25"/>
<rect x="346" y="741" width="3" height="21"/>
<rect x="354" y="741" width="3" height="21"/>
<rect x="362" y="741" width="3" height="24"/>
<rect x="370" y="741" width="3" height="23"/>
<rect x="378" y="741" width="3" height="23"/>
<rect x="386" y="741" width="3" height="24"/>
<rect x="394" y="741" width="3" height="20"/>
<rect x="402" y="741" width="3" height="16"/>
<rect x="410" y="741" width="3" height="13"/>
<rect x="418" y="741" width="3" height="8"/>
<rect x="426" y="741" width="3" height="3"/>
<rect x="434" y="739" width="3" height="2"/>
<rect x="442" y="737" width="3" height="4"/>
<rect x="450" y="731" width="3" height="10"/>
<rect x="458" y="726" width="3" height="15"/>
<rect x="466" y="726" width="3" height="15"/>
<rect x="474" y="728" width="3" height="13"/>
<rect x="482" y="730" width="3" height="11"/>
<rect x="490" y="733" width="3" height="8"/>
<rect x="498" y="738" width="3" height="3"/>
<rect x="506" y="740" width="3" height="1"/>
<rect x="514" y="741" width="3" height="1"/>
<rect x="522" y="741" width="3" height="5"/>
<rect x="530" y="741" width="3" height="10"/>
<rect x="538" y="741" width="3" height="10"/>
<rect x="546" y="741" width="3" height="12"/>
<rect x="554" y="741" width="3" height="14"/>
<rect x="562" y="741" width="3" height="17"/>
<rect x="570" y="741" width="3" height="19"/>
<rect x="578" y="741" width="3" height="17"/>
<rect x="586" y="741" width="3" height="14"/>
<rect x="594" y="741" width="3" height="13"/>
<rect x="602" y="741" width="3" height="14"/>
<rect x="610" y="741" width="3" height="17"/>
<rect x="618" y="741" width="3" height="20"/>
<rect x="626" y="741" width="3" height="23"/>
<rect x="634" y="741" width="3" height="25"/>
<rect x="642" y="741" width="3" height="21"/>
<rect x="650" y="741" width="3" height="16"/>
<rect x="658" y="741" width="3" height="10"/>
<rect x="666" y="741" width="3" height="4"/>
<rect x="674" y="740" width="3" height="1"/>
<rect x="682" y="736" width="3" height="5"/>
<rect x="690" y="732" width="3" height="9"/>
<rect x="698" y="726" width="3" height="15"/>
<rect x="706" y="721" width="3" height="20"/>
<rect x="714" y="715" width="3" height="26"/>
<rect x="722" y="708" width="3" height="33"/>
<rect x="730" y="703" width="3" height="38"/>
<rect x="738" y="700" width="3" height="41"/>
<rect x="746" y="697" width="3" height="44"/>
<rect x="754" y="696" width="3" height="45"/>
<rect x="762" y="699" width="3" height="42"/>
<rect x="770" y="697" width="3" height="44"/>
<rect x="778" y="697" width="3" height="44"/>
<rect x="786" y="696" width="3" height="45"/>
<rect x="794" y="699" width="3" height="42"/>
<rect x="802" y="703" width="3" height="38"/>
<rect x="810" y="707" width="3" height="34"/>
<rect x="818" y="714" width="3" height="27"/>
<rect x="826" y="722" width="3" height="19"/>
<rect x="834" y="727" width="3" height="14"/>
<rect x="842" y="730" width="3" height="11"/>
<rect x="850" y="732" width="3" height="9"/>
<rect x="858" y="735" width="3" height="6"/>
<rect x="866" y="738" width="3" height="3"/>
<rect x="874" y="741" width="3" height="2"/>
<rect x="882" y="741" width="3" height="7"/>
<rect x="890" y="741" width="3" height="11"/>
<rect x="898" y="741" width="3" height="14"/>
<rect x="906" y="741" width="3" height="17"/>
<rect x="914" y="741" width="3" height="17"/>
<rect x="922" y="741" width="3" height="17"/>
<rect x="930" y="741" width="3" height="17"/>
<rect x="938" y="741" width="3" height="20"/>
<rect x="946" y="741" width="3" height="19"/>
<rect x="954" y="741" width="3" height="15"/>
<rect x="962" y="741" width="3" height="14"/>
<rect x="970" y="741" width="3" height="9"/>
<rect x="978" y="741" width="3" height="5"/>
<rect x="986" y="741" width="3" height="3"/>
<rect x="994" y="740" width="3" height="1"/>
<rect x="1002" y="738" width="3" height="3"/>
<rect x="1010" y="738" width="3" height="3"/>
<rect x="1018" y="741" width="3" height="1"/>
<rect x="1026" y="741" width="3" height="2"/>
<rect x="1034" y="741" width="3" height="6"/>
<rect x="1042" y="741" width="3" height="9"/>
<rect x="1050" y="741" width="3" height="10"/>
<rect x="1058" y="741" width="3" height="11"/>
<rect x="1066" y="741" width="3" height="11"/>
<rect x="1074" y="741" width="3" height="11"/>
<rect x="1082" y="741" width="3" height="11"/>
<rect x="1090" y="741" width="3" height="8"/>
<rect x="1098" y="741" width="3" height="6"/>
<rect x="1106" y="741" width="3" height="4"/>
<rect x="1114" y="741" width="3" height="2"/>
<rect x="1122" y="741" width="3" height="2"/>
<rect x="1130" y="741" width="3" height="3"/>
<rect x="1138" y="741" width="3" height="3"/>
<rect x="1146" y="741" width="3" height="3"/>
<rect x="1154" y="741" width="3" height="3"/>
<rect x="1162" y="741" width="3" height="2"/>
<rect x="1170" y="741" width="3" height="1"/>
<rect x="1178" y="740" width="3" height="1"/>
<rect x="1186" y="738" width="3" height="3"/>
<rect x="1194" y="737" width="3" height="4"/>
<rect x="1202" y="735" width="3" height="6"/>
</g>
<g shape-rendering="crispEdges">
<path d="M216 750h2v1h-2zM447 750h2v1h-2zM570 750h4v1h-4zM690 750h3v1h-3zM926 750h4v1h-4zM998 750h4v1h-4zM270 767h4v1h-4zM328 767h16v1h-16zM209 747h2v1h-2zM453 747h2v1h-2zM562 747h3v1h-3zM697 747h2v1h-2zM917 747h3v1h-3zM1010 747h4v1h-4zM1078 747h4v1h-4zM1120 747h16v1h-16zM227 755h2v1h-2zM434 755h3v1h-3zM600 755h8v1h-8zM674 755h4v1h-4zM944 755h8v1h-8zM976 755h6v1h-6zM206 745h2v1h-2zM457 745h2v1h-2zM554 745h4v1h-4zM700 745h2v1h-2zM912 745h2v1h-2zM1018 745h4v1h-4zM1064 745h8v1h-8zM1144 745h8v1h-8zM763 707h3v1h-3zM834 707h3v1h-3zM16 717h8v1h-8zM128 717h6v1h-6zM855 717h2v1h-2zM254 763h4v1h-4zM384 763h16v1h-16zM280 769h40v1h-40zM773 704h3v1h-3zM826 704h3v1h-3zM213 749h3v1h-3zM449 749h2v1h-2zM568 749h2v1h-2zM693 749h2v1h-2zM922 749h4v1h-4zM1002 749h4v1h-4zM1088 749h24v1h-24zM238 759h4v1h-4zM418 759h4v1h-4zM640 759h16v1h-16zM794 698h14v1h-14zM179 732h2v1h-2zM490 732h28v1h-28zM720 732h2v1h-2zM883 732h2v1h-2zM201 742h2v1h-2zM463 742h2v1h-2zM546 742h3v1h-3zM705 742h2v1h-2zM904 742h2v1h-2zM1032 742h16v1h-16zM1176 742h16v1h-16zM195 739h2v1h-2zM469 739h3v1h-3zM538 739h3v1h-3zM710 739h2v1h-2zM897 739h2v1h-2zM776 703h2v1h-2zM824 703h2v1h-2zM32 715h8v1h-8zM72 715h48v1h-48zM851 715h2v1h-2zM186 735h3v1h-3zM480 735h2v1h-2zM525 735h3v1h-3zM716 735h2v1h-2zM889 735h2v1h-2zM225 754h2v1h-2zM437 754h3v1h-3zM592 754h8v1h-8zM678 754h4v1h-4zM938 754h6v1h-6zM982 754h4v1h-4zM790 699h4v1h-4zM808 699h6v1h-6zM232 757h2v1h-2zM426 757h4v1h-4zM616 757h16v1h-16zM664 757h6v1h-6zM960 757h8v1h-8zM262 765h4v1h-4zM352 765h16v1h-16zM223 753h2v1h-2zM440 753h2v1h-2zM584 753h8v1h-8zM682 753h3v1h-3zM936 753h2v1h-2zM986 753h4v1h-4zM461 743h2v1h-2zM549 743h3v1h-3zM906 743h3v1h-3zM1026 743h6v1h-6zM1048 743h8v1h-8zM1160 743h16v1h-16zM24 716h8v1h-8zM120 716h8v1h-8zM744 716h2v1h-2zM853 716h2v1h-2zM189 736h2v1h-2zM477 736h3v1h-3zM528 736h2v1h-2zM891 736h2v1h-2zM234 758h4v1h-4zM422 758h4v1h-4zM632 758h8v1h-8zM656 758h8v1h-8zM199 741h2v1h-2zM465 741h2v1h-2zM544 741h2v1h-2zM901 741h3v1h-3zM1192 741h8v1h-8zM152 722h2v1h-2zM258 764h4v1h-4zM368 764h16v1h-16zM8 718h8v1h-8zM134 718h4v1h-4zM857 718h2v1h-2zM204 744h2v1h-2zM459 744h2v1h-2zM552 744h2v1h-2zM702 744h2v1h-2zM909 744h3v1h-3zM1022 744h4v1h-4zM1056 744h8v1h-8zM1152 744h8v1h-8zM242 760h4v1h-4zM414 760h4v1h-4zM778 702h4v1h-4zM821 702h3v1h-3zM229 756h3v1h-3zM430 756h4v1h-4zM608 756h8v1h-8zM670 756h4v1h-4zM952 756h8v1h-8zM968 756h8v1h-8zM455 746h2v1h-2zM558 746h4v1h-4zM914 746h3v1h-3zM1014 746h4v1h-4zM1072 746h6v1h-6zM1136 746h8v1h-8zM266 766h4v1h-4zM344 766h8v1h-8zM181 733h3v1h-3zM486 733h4v1h-4zM518 733h4v1h-4zM885 733h2v1h-2zM154 723h4v1h-4zM734 723h2v1h-2zM865 723h2v1h-2zM749 713h3v1h-3zM847 713h2v1h-2zM40 714h32v1h-32zM747 714h2v1h-2zM849 714h2v1h-2zM250 762h4v1h-4zM400 762h8v1h-8zM218 751h3v1h-3zM445 751h2v1h-2zM574 751h4v1h-4zM688 751h2v1h-2zM930 751h3v1h-3zM994 751h4v1h-4zM752 712h2v1h-2zM845 712h2v1h-2zM761 708h2v1h-2zM837 708h2v1h-2zM191 737h2v1h-2zM474 737h3v1h-3zM530 737h4v1h-4zM713 737h2v1h-2zM893 737h2v1h-2zM757 710h2v1h-2zM841 710h2v1h-2zM211 748h2v1h-2zM451 748h2v1h-2zM565 748h3v1h-3zM695 748h2v1h-2zM920 748h2v1h-2zM1006 748h4v1h-4zM1082 748h6v1h-6zM1112 748h8v1h-8zM766 706h4v1h-4zM832 706h2v1h-2zM149 721h3v1h-3zM737 721h2v1h-2zM862 721h2v1h-2zM193 738h2v1h-2zM472 738h2v1h-2zM534 738h4v1h-4zM895 738h2v1h-2zM246 761h4v1h-4zM408 761h6v1h-6zM221 752h2v1h-2zM442 752h3v1h-3zM578 752h6v1h-6zM685 752h3v1h-3zM933 752h3v1h-3zM990 752h4v1h-4zM158 724h4v1h-4zM732 724h2v1h-2zM867 724h2v1h-2zM170 728h3v1h-3zM726 728h2v1h-2zM875 728h2v1h-2zM782 701h4v1h-4zM818 701h3v1h-3zM3 719h5v1h-5zM138 719h6v1h-6zM740 719h2v1h-2zM786 700h4v1h-4zM814 700h4v1h-4zM274 768h6v1h-6zM320 768h8v1h-8zM173 729h2v1h-2zM724 729h2v1h-2zM877 729h2v1h-2zM175 730h2v1h-2zM879 730h2v1h-2zM168 727h2v1h-2zM873 727h2v1h-2zM162 725h3v1h-3zM869 725h2v1h-2zM177 731h2v1h-2zM881 731h2v1h-2zM144 720h5v1h-5zM860 720h2v1h-2zM197 740h2v1h-2zM467 740h2v1h-2zM541 740h3v1h-3zM708 740h2v1h-2zM899 740h2v1h-2zM1200 740h3v1h-3zM165 726h3v1h-3zM729 726h2v1h-2zM871 726h2v1h-2zM184 734h2v1h-2zM482 734h4v1h-4zM522 734h3v1h-3zM887 734h2v1h-2zM759 709h2v1h-2zM839 709h2v1h-2zM770 705h3v1h-3zM829 705h3v1h-3zM754 711h3v1h-3zM843 711h2v1h-2zM723 730h1v1h-1zM203 743h1v1h-1zM739 720h1v1h-1zM731 725h1v1h-1zM722 731h1v1h-1zM742 718h1v1h-1zM743 717h1v1h-1zM704 743h1v1h-1zM712 738h1v1h-1zM746 715h1v1h-1zM707 741h1v1h-1zM728 727h1v1h-1zM864 722h1v1h-1zM699 746h1v1h-1zM715 736h1v1h-1zM736 722h1v1h-1zM719 733h1v1h-1zM208 746h1v1h-1zM859 719h1v1h-1zM718 734h1v1h-1z" fill="#ff0000" clip-path="url(#cd)" shape-rendering="crispEdges"/>
</g>
<g shape-rendering="crispEdges" fill="#fff">
<rect x="2" y="2" width="1253" height="1"/><rect x="2" y="2" width="1" height="602"/><rect x="2" y="603" width="1253" height="1"/><rect x="1254" y="2" width="1" height="602"/>
<rect x="2" y="605" width="1253" height="1"/><rect x="2" y="605" width="1" height="85"/><rect x="2" y="689" width="1253" height="1"/><rect x="1254" y="605" width="1" height="85"/>
<rect x="2" y="691" width="1253" height="1"/><rect x="2" y="691" width="1" height="87"/><rect x="2" y="777" width="1253" height="1"/><rect x="1254" y="691" width="1" height="87"/>
<rect x="1255" y="6" width="2" height="1"/>
<rect x="1255" y="39" width="2" height="1"/>
<rect x="1255" y="72" width="2" height="1"/>
<rect x="1255" y="105" width="2" height="1"/>
<rect x="1255" y="138" width="2" height="1"/>
<rect x="1255" y="171" width="2" height="1"/>
<rect x="1255" y="204" width="2" height="1"/>
<rect x="1255" y="237" width="2" height="1"/>
<rect x="1255" y="270" width="2" height="1"/>
<rect x="1255" y="303" width="2" height="1"/>
<rect x="1255" y="336" width="2" height="1"/>
<rect x="1255" y="369" width="2" height="1"/>
<rect x="1255" y="402" width="2" height="1"/>
<rect x="1255" y="435" width="2" height="1"/>
<rect x="1255" y="468" width="2" height="1"/>
<rect x="1255" y="501" width="2" height="1"/>
<rect x="1255" y="534" width="2" height="1"/>
<rect x="1255" y="567" width="2" height="1"/>
<rect x="1255" y="600" width="2" height="1"/>
<rect x="1255" y="606" width="1" height="1"/>
<rect x="1255" y="688" width="1" height="1"/>
<rect x="1255" y="693" width="1" height="1"/>
<rect x="1255" y="741" width="2" height="1"/>
<rect x="1255" y="776" width="1" height="1"/>
<rect x="3" y="778" width="1" height="3"/>
<rect x="67" y="778" width="1" height="3"/>
<rect x="131" y="778" width="1" height="3"/>
<rect x="195" y="778" width="1" height="3"/>
<rect x="259" y="778" width="1" height="3"/>
<rect x="323" y="778" width="1" height="3"/>
<rect x="387" y="778" width="1" height="3"/>
<rect x="451" y="778" width="1" height="3"/>
<rect x="515" y="778" width="1" height="3"/>
<rect x="579" y="778" width="1" height="3"/>
<rect x="643" y="778" width="1" height="3"/>
<rect x="707" y="778" width="1" height="3"/>
<rect x="771" y="778" width="1" height="3"/>
<rect x="835" y="778" width="1" height="3"/>
<rect x="899" y="778" width="1" height="3"/>
<rect x="963" y="778" width="1" height="3"/>
<rect x="1027" y="778" width="1" height="3"/>
<rect x="1091" y="778" width="1" height="3"/>
<rect x="1155" y="778" width="1" height="3"/>
</g>
<rect x="1254" y="631" width="1" height="1" fill="#ff00ff" shape-rendering="crispEdges"/><rect x="1254" y="664" width="1" height="1" fill="#ff00ff" shape-rendering="crispEdges"/>
<text class="t" x="1259.7" y="10" textLength="33.3" lengthAdjust="spacingAndGlyphs">1.11075</text>
<text class="t" x="1259.7" y="43" textLength="33.3" lengthAdjust="spacingAndGlyphs">1.10760</text>
<text class="t" x="1259.7" y="76" textLength="33.3" lengthAdjust="spacingAndGlyphs">1.10450</text>
<text class="t" x="1259.7" y="109" textLength="33.3" lengthAdjust="spacingAndGlyphs">1.10135</text>
<text class="t" x="1259.7" y="142" textLength="33.3" lengthAdjust="spacingAndGlyphs">1.09820</text>
<text class="t" x="1259.7" y="175" textLength="33.3" lengthAdjust="spacingAndGlyphs">1.09510</text>
<text class="t" x="1259.7" y="208" textLength="33.3" lengthAdjust="spacingAndGlyphs">1.09195</text>
<text class="t" x="1259.7" y="241" textLength="33.3" lengthAdjust="spacingAndGlyphs">1.08885</text>
<text class="t" x="1259.7" y="274" textLength="33.3" lengthAdjust="spacingAndGlyphs">1.08570</text>
<text class="t" x="1259.7" y="307" textLength="33.3" lengthAdjust="spacingAndGlyphs">1.08260</text>
<text class="t" x="1259.7" y="340" textLength="33.3" lengthAdjust="spacingAndGlyphs">1.07945</text>
<text class="t" x="1259.7" y="373" textLength="33.3" lengthAdjust="spacingAndGlyphs">1.07630</text>
<text class="t" x="1259.7" y="406" textLength="33.3" lengthAdjust="spacingAndGlyphs">1.07320</text>
<text class="t" x="1259.7" y="439" textLength="33.3" lengthAdjust="spacingAndGlyphs">1.07005</text>
<text class="t" x="1259.7" y="472" textLength="33.3" lengthAdjust="spacingAndGlyphs">1.06695</text>
<text class="t" x="1259.7" y="505" textLength="33.3" lengthAdjust="spacingAndGlyphs">1.06380</text>
<text class="t" x="1259.7" y="538" textLength="33.3" lengthAdjust="spacingAndGlyphs">1.06065</text>
<text class="t" x="1259.7" y="571" textLength="33.3" lengthAdjust="spacingAndGlyphs">1.05755</text>
<text class="t" x="1259.7" y="604" textLength="33.3" lengthAdjust="spacingAndGlyphs">1.05440</text>
<rect x="1256" y="247" width="41" height="11" fill="#fff" shape-rendering="crispEdges"/>
<text class="t" x="1259.7" y="256" style="fill:#000" textLength="33.3" lengthAdjust="spacingAndGlyphs">1.08746</text>
<text class="t" x="1257.6" y="616" textLength="15.5" lengthAdjust="spacingAndGlyphs">100</text>
<text class="t" x="1257.6" y="635" textLength="10.3" lengthAdjust="spacingAndGlyphs">70</text>
<text class="t" x="1257.6" y="668" textLength="10.3" lengthAdjust="spacingAndGlyphs">30</text>
<text class="t" x="1257.6" y="686" textLength="5.2" lengthAdjust="spacingAndGlyphs">0</text>
<rect x="1257" y="693" width="40" height="11" fill="#00ffff" shape-rendering="crispEdges"/>
<text class="t" x="1258.3" y="702" textLength="38.3" lengthAdjust="spacingAndGlyphs">0.008721</text>
<rect x="1257" y="736" width="20" height="11" fill="#00ffff" shape-rendering="crispEdges"/>
<text class="t" x="1258.3" y="745" textLength="17.8" lengthAdjust="spacingAndGlyphs">0.00</text>
<rect x="1257" y="765" width="33" height="11" fill="#00ffff" shape-rendering="crispEdges"/>
<text class="t" x="1258.3" y="774" textLength="31" lengthAdjust="spacingAndGlyphs">-0.0063</text>
<text class="t" x="2.2" y="790" textLength="47" lengthAdjust="spacingAndGlyphs">1 Feb 2023</text>
<text class="t" x="66.2" y="790" textLength="52" lengthAdjust="spacingAndGlyphs">13 Feb 2023</text>
<text class="t" x="130.2" y="790" textLength="52" lengthAdjust="spacingAndGlyphs">23 Feb 2023</text>
<text class="t" x="194.2" y="790" textLength="47" lengthAdjust="spacingAndGlyphs">7 Mar 2023</text>
<text class="t" x="258.2" y="790" textLength="52" lengthAdjust="spacingAndGlyphs">17 Mar 2023</text>
<text class="t" x="322.2" y="790" textLength="52" lengthAdjust="spacingAndGlyphs">29 Mar 2023</text>
<text class="t" x="386.2" y="790" textLength="51" lengthAdjust="spacingAndGlyphs">10 Apr 2023</text>
<text class="t" x="450.2" y="790" textLength="51" lengthAdjust="spacingAndGlyphs">20 Apr 2023</text>
<text class="t" x="514.2" y="790" textLength="50" lengthAdjust="spacingAndGlyphs">2 May 2023</text>
<text class="t" x="578.2" y="790" textLength="55" lengthAdjust="spacingAndGlyphs">12 May 2023</text>
<text class="t" x="642.2" y="790" textLength="55" lengthAdjust="spacingAndGlyphs">24 May 2023</text>
<text class="t" x="706.2" y="790" textLength="45.5" lengthAdjust="spacingAndGlyphs">5 Jun 2023</text>
<text class="t" x="770.2" y="790" textLength="50" lengthAdjust="spacingAndGlyphs">15 Jun 2023</text>
<text class="t" x="834.2" y="790" textLength="50" lengthAdjust="spacingAndGlyphs">27 Jun 2023</text>
<text class="t" x="898.2" y="790" textLength="42.5" lengthAdjust="spacingAndGlyphs">7 Jul 2023</text>
<text class="t" x="962.2" y="790" textLength="47" lengthAdjust="spacingAndGlyphs">19 Jul 2023</text>
<text class="t" x="1026.2" y="790" textLength="47" lengthAdjust="spacingAndGlyphs">31 Jul 2023</text>
<text class="t" x="1090.2" y="790" textLength="53" lengthAdjust="spacingAndGlyphs">10 Aug 2023</text>
<text class="t" x="1154.2" y="790" textLength="53" lengthAdjust="spacingAndGlyphs">22 Aug 2023</text>
<g fill="#fff" shape-rendering="crispEdges"><rect x="6" y="9" width="7" height="1"/><rect x="7" y="10" width="5" height="1"/><rect x="8" y="11" width="3" height="1"/><rect x="9" y="12" width="1" height="1"/></g>
<text class="t" x="18.3" y="14" textLength="64" lengthAdjust="spacingAndGlyphs">AUDNZD,Daily</text>
<text class="t" x="88.8" y="14" textLength="141.5" lengthAdjust="spacingAndGlyphs">1.08496 1.08773 1.08341 1.08746</text>
<text class="t" x="6.5" y="618" textLength="68.8" lengthAdjust="spacingAndGlyphs">RSI(13) 58.3362</text>
<rect x="6" y="695" width="156" height="11" fill="#00ffff" shape-rendering="crispEdges"/>
<text class="t" x="7.5" y="704" textLength="148" lengthAdjust="spacingAndGlyphs">MACD(12,26,9) 0.001038 0.000181</text>
<text x="204" y="57.8" style="font-size:14px;fill:#00ff00" textLength="127.5" lengthAdjust="spacingAndGlyphs">Donchian Channel(10)</text>
<text x="813" y="63.9" style="font-size:14px;fill:#00ff00" textLength="140.2" lengthAdjust="spacingAndGlyphs">Parabolic SAR(0.02,0.2)</text>
<text x="235.9" y="507.9" style="font-size:14px;fill:#00ff00" textLength="46.7" lengthAdjust="spacingAndGlyphs">Fractals</text>
<text x="222.6" y="124.8" style="font-size:19.7px;fill:#ffa500" textLength="74" lengthAdjust="spacingAndGlyphs">MA(200)</text>
<path d="M1227.5,236.6 L1220,243.4 L1223.5,243.4 L1223.5,254.5 L1231.5,254.5 L1231.5,243.4 L1235,243.4 Z" fill="none" stroke="#fff" stroke-width="1.35" stroke-linejoin="miter"/>
</svg></body></html>
